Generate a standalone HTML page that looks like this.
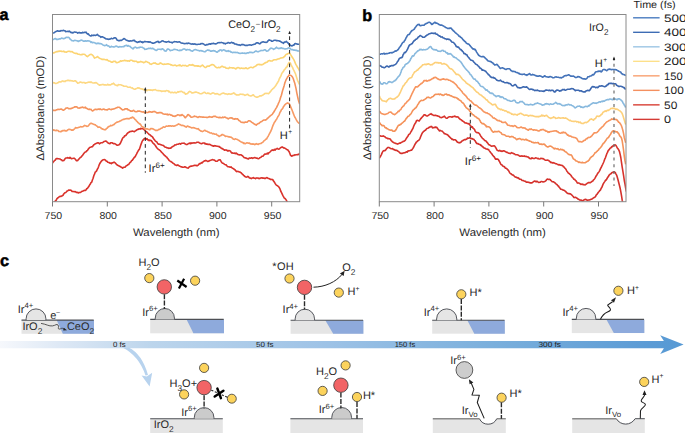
<!DOCTYPE html>
<html><head><meta charset="utf-8"><style>
html,body{margin:0;padding:0;background:#fff;}
svg{display:block;}
text{font-family:"Liberation Sans", sans-serif;}
svg{text-rendering:geometricPrecision;}
</style></head><body>
<svg width="685" height="433" viewBox="0 0 685 433">
<rect width="685" height="433" fill="#fff"/>
<defs>
<clipPath id="ca"><rect x="52.5" y="14.5" width="247.2" height="187.2"/></clipPath>
<clipPath id="cb"><rect x="379.3" y="14.5" width="246.7" height="187.2"/></clipPath>
<linearGradient id="tl" x1="0" y1="0" x2="685" y2="0" gradientUnits="userSpaceOnUse">
<stop offset="0" stop-color="#f6f8fc"/>
<stop offset="0.09" stop-color="#dde8f5"/>
<stop offset="0.22" stop-color="#bcd5ec"/>
<stop offset="0.48" stop-color="#9dc2e6"/>
<stop offset="0.72" stop-color="#7aafdc"/>
<stop offset="0.95" stop-color="#5b9bd5"/>
<stop offset="1" stop-color="#5699d4"/>
</linearGradient>
</defs>
<text x="-0.6" y="20.4" font-size="16.2" font-weight="bold" fill="#000" stroke="#000" stroke-width="0.5">a</text>
<text x="362.2" y="20.6" font-size="16.2" font-weight="bold" fill="#000" stroke="#000" stroke-width="0.5">b</text>
<text x="0.1" y="266.2" font-size="16.4" font-weight="bold" fill="#000" stroke="#000" stroke-width="0.5">c</text>
<polyline clip-path="url(#ca)" points="52.5,204.2 53.2,203.8 53.9,202.9 54.6,202.0 55.3,200.9 56.0,200.6 56.7,199.1 57.4,198.2 58.1,197.8 58.8,197.1 59.5,196.6 60.2,196.2 60.9,196.4 61.6,196.1 62.3,195.7 63.0,195.3 63.7,194.0 64.4,193.2 65.1,192.7 65.8,192.4 66.5,191.7 67.2,190.9 67.9,190.7 68.6,190.0 69.3,190.2 70.0,190.0 70.7,190.3 71.4,190.6 72.1,191.5 72.8,191.5 73.5,191.5 74.2,191.7 74.9,191.6 75.6,191.8 76.3,192.5 77.0,192.3 77.7,192.6 78.4,193.0 79.1,192.4 79.8,192.6 80.5,192.4 81.2,191.9 81.9,191.3 82.6,191.3 83.3,190.9 84.0,190.5 84.7,190.3 85.4,190.4 86.1,189.8 86.8,188.5 87.5,188.4 88.2,187.2 88.9,186.4 89.6,185.0 90.3,184.0 91.0,182.7 91.7,182.2 92.4,180.0 93.1,178.3 93.8,175.7 94.5,174.1 95.2,172.2 95.9,171.6 96.6,170.9 97.3,169.2 98.0,168.1 98.7,166.3 99.4,164.3 100.1,163.0 100.8,162.0 101.5,161.1 102.2,160.3 102.9,159.8 103.6,159.8 104.3,159.6 105.0,159.7 105.7,160.4 106.4,161.3 107.1,161.4 107.8,162.2 108.5,162.4 109.2,162.6 109.9,163.2 110.6,163.1 111.3,163.6 112.0,162.9 112.7,162.9 113.4,162.5 114.1,162.1 114.8,162.6 115.5,163.1 116.2,164.1 116.9,164.8 117.6,165.2 118.3,165.6 119.0,165.9 119.7,166.4 120.4,166.5 121.1,167.3 121.8,167.3 122.5,168.1 123.2,167.7 123.9,167.2 124.6,167.3 125.3,167.0 126.0,165.9 126.7,165.6 127.4,165.2 128.1,164.6 128.8,164.4 129.5,163.2 130.2,162.3 130.9,161.8 131.6,160.6 132.3,160.2 133.0,159.2 133.7,158.2 134.4,157.2 135.1,156.8 135.8,155.3 136.5,154.1 137.2,152.6 137.9,151.4 138.6,150.1 139.3,149.4 140.0,147.4 140.7,145.3 141.4,143.4 142.1,141.4 142.8,140.4 143.5,139.6 144.2,138.8 144.9,138.5 145.6,138.6 146.3,139.1 147.0,138.5 147.7,139.9 148.4,139.9 149.1,140.6 149.8,140.1 150.5,140.4 151.2,140.6 151.9,141.4 152.6,142.7 153.3,143.3 154.0,143.9 154.7,144.7 155.4,145.5 156.1,146.8 156.8,147.7 157.5,148.5 158.2,149.2 158.9,149.6 159.6,150.2 160.3,150.7 161.0,151.5 161.7,152.4 162.4,153.0 163.1,153.8 163.8,154.7 164.5,155.3 165.2,155.9 165.9,156.6 166.6,157.0 167.3,158.1 168.0,158.8 168.7,159.9 169.4,160.6 170.1,161.1 170.8,161.5 171.5,162.0 172.2,162.4 172.9,163.1 173.6,163.6 174.3,163.9 175.0,164.9 175.7,165.1 176.4,165.4 177.1,165.4 177.8,164.9 178.5,165.5 179.2,165.9 179.9,166.3 180.6,166.6 181.3,166.9 182.0,166.9 182.7,167.2 183.4,167.2 184.1,167.1 184.8,166.8 185.5,167.1 186.2,167.4 186.9,167.8 187.6,168.0 188.3,168.1 189.0,167.1 189.7,166.8 190.4,166.2 191.1,166.1 191.8,166.1 192.5,165.9 193.2,165.7 193.9,165.5 194.6,165.3 195.3,165.5 196.0,165.3 196.7,165.7 197.4,165.7 198.1,165.1 198.8,164.4 199.5,163.6 200.2,163.7 200.9,163.3 201.6,162.6 202.3,162.9 203.0,161.9 203.7,161.3 204.4,160.8 205.1,160.9 205.8,160.4 206.5,160.7 207.2,161.2 207.9,161.4 208.6,161.1 209.3,161.0 210.0,160.4 210.7,160.2 211.4,160.0 212.1,159.7 212.8,159.6 213.5,160.0 214.2,160.0 214.9,160.5 215.6,161.1 216.3,161.2 217.0,161.3 217.7,160.8 218.4,160.1 219.1,159.9 219.8,159.7 220.5,160.2 221.2,161.8 221.9,162.6 222.6,163.3 223.3,163.3 224.0,163.9 224.7,164.4 225.4,164.8 226.1,164.9 226.8,165.7 227.5,166.4 228.2,166.7 228.9,166.7 229.6,167.0 230.3,167.3 231.0,166.8 231.7,167.7 232.4,168.2 233.1,168.4 233.8,169.0 234.5,169.5 235.2,170.0 235.9,170.9 236.6,171.6 237.3,171.4 238.0,171.5 238.7,171.6 239.4,172.0 240.1,172.1 240.8,172.6 241.5,173.2 242.2,174.1 242.9,174.4 243.6,175.5 244.3,175.8 245.0,176.6 245.7,176.9 246.4,177.1 247.1,177.0 247.8,176.4 248.5,176.8 249.2,177.7 249.9,178.1 250.6,178.1 251.3,178.6 252.0,178.1 252.7,177.9 253.4,177.6 254.1,178.2 254.8,178.2 255.5,178.7 256.2,178.1 256.9,177.9 257.6,178.1 258.3,178.0 259.0,178.6 259.7,178.5 260.4,178.0 261.1,178.0 261.8,177.7 262.5,178.2 263.2,178.0 263.9,178.1 264.6,178.4 265.3,178.4 266.0,178.1 266.7,177.6 267.4,177.8 268.1,178.4 268.8,178.5 269.5,178.7 270.2,179.3 270.9,179.6 271.6,179.4 272.3,179.5 273.0,180.0 273.7,181.3 274.4,182.1 275.1,183.4 275.8,184.5 276.5,185.3 277.2,185.6 277.9,186.1 278.6,186.6 279.3,187.7 280.0,188.9 280.7,191.0 281.4,192.3 282.1,193.8 282.8,195.3 283.5,196.6 284.2,198.0 284.9,198.4 285.6,199.1 286.3,200.1 287.0,201.8 287.7,202.8 288.4,204.0 289.1,205.1 289.8,206.0" fill="none" stroke="#da322b" stroke-width="1.6" stroke-linejoin="round"/>
<polyline clip-path="url(#ca)" points="52.5,163.0 53.2,162.0 53.9,161.4 54.6,160.4 55.3,160.3 56.0,158.7 56.7,158.5 57.4,158.6 58.1,158.7 58.8,158.8 59.5,159.0 60.2,159.0 60.9,159.7 61.6,159.7 62.3,160.7 63.0,160.8 63.7,160.6 64.4,159.8 65.1,158.6 65.8,158.0 66.5,158.0 67.2,157.9 67.9,157.6 68.6,158.0 69.3,158.2 70.0,157.4 70.7,158.1 71.4,158.8 72.1,158.6 72.8,158.4 73.5,158.2 74.2,158.2 74.9,158.8 75.6,159.5 76.3,160.6 77.0,160.7 77.7,160.4 78.4,159.5 79.1,158.9 79.8,158.0 80.5,157.4 81.2,157.0 81.9,156.1 82.6,155.2 83.3,154.2 84.0,153.3 84.7,152.5 85.4,151.9 86.1,151.7 86.8,150.7 87.5,150.4 88.2,149.3 88.9,148.3 89.6,147.7 90.3,147.2 91.0,147.2 91.7,146.7 92.4,146.7 93.1,145.7 93.8,144.8 94.5,144.5 95.2,143.7 95.9,143.6 96.6,143.3 97.3,143.0 98.0,142.7 98.7,143.0 99.4,143.8 100.1,143.3 100.8,142.8 101.5,142.8 102.2,142.8 102.9,142.3 103.6,141.8 104.3,141.4 105.0,141.2 105.7,141.0 106.4,141.2 107.1,142.1 107.8,142.7 108.5,143.3 109.2,143.5 109.9,143.7 110.6,142.7 111.3,142.7 112.0,142.8 112.7,143.2 113.4,143.7 114.1,143.6 114.8,143.8 115.5,144.0 116.2,144.6 116.9,145.2 117.6,145.3 118.3,145.0 119.0,144.8 119.7,144.2 120.4,143.2 121.1,141.6 121.8,140.2 122.5,138.4 123.2,137.4 123.9,137.2 124.6,135.8 125.3,135.7 126.0,135.3 126.7,134.3 127.4,133.3 128.1,132.7 128.8,132.3 129.5,132.0 130.2,131.4 130.9,131.6 131.6,131.2 132.3,131.1 133.0,131.3 133.7,131.5 134.4,131.6 135.1,131.0 135.8,130.7 136.5,130.1 137.2,129.6 137.9,129.5 138.6,129.0 139.3,128.9 140.0,129.1 140.7,128.4 141.4,128.7 142.1,128.5 142.8,128.7 143.5,129.0 144.2,129.7 144.9,130.5 145.6,131.1 146.3,131.6 147.0,132.2 147.7,133.0 148.4,133.6 149.1,134.5 149.8,134.7 150.5,135.3 151.2,136.1 151.9,136.4 152.6,137.0 153.3,138.3 154.0,139.2 154.7,140.1 155.4,141.1 156.1,141.5 156.8,141.9 157.5,143.2 158.2,144.1 158.9,144.0 159.6,144.2 160.3,144.5 161.0,144.8 161.7,145.1 162.4,145.3 163.1,145.4 163.8,145.9 164.5,146.6 165.2,147.2 165.9,147.2 166.6,147.7 167.3,147.9 168.0,147.9 168.7,148.4 169.4,148.2 170.1,148.0 170.8,148.1 171.5,147.4 172.2,146.8 172.9,146.4 173.6,146.1 174.3,145.6 175.0,144.7 175.7,144.9 176.4,144.7 177.1,144.2 177.8,144.2 178.5,144.2 179.2,143.7 179.9,143.5 180.6,144.1 181.3,143.5 182.0,143.2 182.7,143.3 183.4,143.2 184.1,143.1 184.8,143.8 185.5,144.1 186.2,144.4 186.9,144.6 187.6,144.3 188.3,143.6 189.0,143.4 189.7,143.1 190.4,143.7 191.1,142.8 191.8,143.4 192.5,143.0 193.2,142.9 193.9,143.0 194.6,142.9 195.3,143.0 196.0,142.8 196.7,142.4 197.4,142.3 198.1,142.3 198.8,142.4 199.5,143.0 200.2,143.2 200.9,143.6 201.6,143.8 202.3,143.4 203.0,143.0 203.7,143.0 204.4,143.1 205.1,144.0 205.8,143.5 206.5,144.1 207.2,144.1 207.9,144.4 208.6,144.4 209.3,144.2 210.0,144.5 210.7,144.9 211.4,145.4 212.1,145.6 212.8,145.9 213.5,146.3 214.2,145.6 214.9,146.0 215.6,145.8 216.3,146.1 217.0,146.3 217.7,146.3 218.4,146.6 219.1,146.4 219.8,147.3 220.5,147.4 221.2,148.2 221.9,148.6 222.6,148.6 223.3,149.4 224.0,149.8 224.7,150.2 225.4,149.9 226.1,150.1 226.8,150.0 227.5,150.9 228.2,151.0 228.9,150.5 229.6,150.7 230.3,150.9 231.0,152.0 231.7,153.0 232.4,152.9 233.1,153.3 233.8,153.3 234.5,153.0 235.2,153.6 235.9,153.0 236.6,153.5 237.3,154.0 238.0,154.6 238.7,154.8 239.4,154.9 240.1,154.8 240.8,154.7 241.5,155.3 242.2,155.6 242.9,156.2 243.6,157.0 244.3,157.8 245.0,157.8 245.7,158.1 246.4,158.1 247.1,158.6 247.8,158.7 248.5,159.0 249.2,158.0 249.9,158.0 250.6,158.2 251.3,157.9 252.0,157.9 252.7,158.4 253.4,157.9 254.1,157.7 254.8,157.5 255.5,157.9 256.2,158.1 256.9,158.0 257.6,158.4 258.3,158.7 259.0,158.5 259.7,157.8 260.4,157.5 261.1,157.1 261.8,156.3 262.5,156.3 263.2,156.0 263.9,155.1 264.6,154.1 265.3,154.1 266.0,154.0 266.7,154.0 267.4,153.1 268.1,153.9 268.8,152.7 269.5,152.5 270.2,151.8 270.9,151.0 271.6,150.4 272.3,149.9 273.0,150.4 273.7,150.1 274.4,149.4 275.1,150.1 275.8,149.1 276.5,149.0 277.2,148.4 277.9,149.0 278.6,149.1 279.3,149.0 280.0,148.2 280.7,147.5 281.4,147.4 282.1,146.9 282.8,147.2 283.5,147.9 284.2,147.9 284.9,148.3 285.6,148.5 286.3,149.3 287.0,149.6 287.7,149.7 288.4,150.8 289.1,151.6 289.8,153.3 290.5,155.2 291.2,155.8 291.9,156.2 292.6,155.6 293.3,155.4 294.0,155.4 294.7,154.8 295.4,155.0 296.1,154.8 296.8,154.8 297.5,154.5 298.2,154.6 298.9,154.2 299.6,153.3" fill="none" stroke="#d8332c" stroke-width="1.6" stroke-linejoin="round"/>
<polyline clip-path="url(#ca)" points="52.5,129.4 53.2,130.3 53.9,129.9 54.6,130.4 55.3,130.5 56.0,130.7 56.7,130.1 57.4,130.5 58.1,130.5 58.8,131.4 59.5,131.5 60.2,131.6 60.9,131.8 61.6,131.2 62.3,130.6 63.0,130.9 63.7,130.4 64.4,130.2 65.1,131.0 65.8,130.6 66.5,130.9 67.2,130.6 67.9,129.7 68.6,129.4 69.3,129.4 70.0,129.5 70.7,129.5 71.4,130.2 72.1,129.9 72.8,130.2 73.5,129.8 74.2,129.1 74.9,128.5 75.6,127.6 76.3,127.9 77.0,127.9 77.7,127.8 78.4,127.5 79.1,127.2 79.8,127.1 80.5,126.6 81.2,126.7 81.9,126.9 82.6,126.8 83.3,126.6 84.0,125.8 84.7,125.3 85.4,125.8 86.1,125.9 86.8,126.4 87.5,126.2 88.2,125.9 88.9,125.1 89.6,124.2 90.3,123.6 91.0,123.3 91.7,123.4 92.4,123.7 93.1,124.2 93.8,124.2 94.5,124.8 95.2,124.7 95.9,125.3 96.6,125.8 97.3,126.4 98.0,127.4 98.7,127.0 99.4,127.0 100.1,127.4 100.8,127.8 101.5,128.8 102.2,128.7 102.9,129.3 103.6,129.3 104.3,129.7 105.0,129.8 105.7,129.7 106.4,128.5 107.1,128.2 107.8,127.4 108.5,126.6 109.2,126.5 109.9,126.1 110.6,125.4 111.3,125.8 112.0,125.6 112.7,125.2 113.4,124.6 114.1,124.6 114.8,123.7 115.5,123.2 116.2,122.7 116.9,122.0 117.6,122.1 118.3,121.7 119.0,121.6 119.7,121.1 120.4,120.9 121.1,120.6 121.8,120.0 122.5,119.8 123.2,119.4 123.9,119.4 124.6,119.1 125.3,118.9 126.0,118.8 126.7,118.6 127.4,118.6 128.1,118.5 128.8,118.9 129.5,118.6 130.2,118.1 130.9,117.7 131.6,117.9 132.3,117.1 133.0,117.3 133.7,117.9 134.4,118.6 135.1,119.6 135.8,119.9 136.5,121.1 137.2,121.5 137.9,122.6 138.6,122.9 139.3,123.9 140.0,123.9 140.7,124.7 141.4,125.9 142.1,126.8 142.8,126.9 143.5,127.6 144.2,127.9 144.9,128.7 145.6,128.9 146.3,128.9 147.0,128.8 147.7,129.1 148.4,129.2 149.1,129.7 149.8,129.8 150.5,128.6 151.2,128.8 151.9,128.5 152.6,128.9 153.3,129.0 154.0,129.5 154.7,129.7 155.4,130.4 156.1,130.4 156.8,130.3 157.5,130.4 158.2,129.9 158.9,129.2 159.6,129.4 160.3,128.9 161.0,128.3 161.7,128.2 162.4,127.8 163.1,127.0 163.8,126.9 164.5,127.2 165.2,127.0 165.9,126.3 166.6,126.1 167.3,126.2 168.0,126.2 168.7,125.8 169.4,126.1 170.1,125.7 170.8,125.8 171.5,126.3 172.2,125.9 172.9,126.0 173.6,126.1 174.3,126.1 175.0,125.7 175.7,125.6 176.4,125.0 177.1,125.0 177.8,124.4 178.5,123.9 179.2,124.2 179.9,124.6 180.6,124.7 181.3,125.4 182.0,125.5 182.7,125.3 183.4,125.7 184.1,125.7 184.8,126.4 185.5,126.6 186.2,127.2 186.9,126.5 187.6,126.0 188.3,126.4 189.0,126.9 189.7,126.9 190.4,127.2 191.1,127.6 191.8,127.9 192.5,127.7 193.2,127.5 193.9,127.9 194.6,127.9 195.3,128.3 196.0,128.5 196.7,128.7 197.4,129.0 198.1,128.6 198.8,129.4 199.5,130.2 200.2,130.5 200.9,131.1 201.6,131.1 202.3,131.6 203.0,131.3 203.7,130.9 204.4,130.3 205.1,130.4 205.8,131.0 206.5,131.3 207.2,131.3 207.9,132.0 208.6,132.0 209.3,132.5 210.0,132.9 210.7,133.1 211.4,132.9 212.1,133.5 212.8,133.9 213.5,133.6 214.2,133.8 214.9,134.3 215.6,134.2 216.3,134.0 217.0,135.1 217.7,135.4 218.4,135.6 219.1,136.5 219.8,136.1 220.5,135.6 221.2,135.4 221.9,134.6 222.6,134.5 223.3,135.0 224.0,135.2 224.7,135.6 225.4,136.4 226.1,136.3 226.8,136.3 227.5,136.5 228.2,136.6 228.9,137.0 229.6,136.8 230.3,137.3 231.0,137.0 231.7,137.8 232.4,138.1 233.1,138.9 233.8,139.2 234.5,139.4 235.2,138.8 235.9,139.1 236.6,139.3 237.3,139.5 238.0,139.9 238.7,140.5 239.4,140.5 240.1,141.4 240.8,141.8 241.5,142.1 242.2,142.4 242.9,142.5 243.6,143.5 244.3,143.0 245.0,143.7 245.7,143.4 246.4,143.0 247.1,142.7 247.8,143.1 248.5,143.3 249.2,143.0 249.9,143.5 250.6,144.0 251.3,143.9 252.0,144.3 252.7,143.8 253.4,144.2 254.1,144.0 254.8,144.7 255.5,144.1 256.2,143.6 256.9,144.1 257.6,144.1 258.3,144.5 259.0,143.8 259.7,143.7 260.4,143.5 261.1,143.4 261.8,142.7 262.5,142.5 263.2,141.9 263.9,140.9 264.6,140.3 265.3,139.8 266.0,139.1 266.7,138.9 267.4,137.3 268.1,136.5 268.8,135.0 269.5,133.6 270.2,132.3 270.9,131.0 271.6,129.4 272.3,127.3 273.0,125.4 273.7,123.9 274.4,122.3 275.1,121.6 275.8,120.1 276.5,119.5 277.2,118.0 277.9,116.6 278.6,115.7 279.3,114.3 280.0,112.2 280.7,111.4 281.4,109.7 282.1,109.1 282.8,108.3 283.5,106.6 284.2,105.8 284.9,104.8 285.6,104.1 286.3,103.5 287.0,103.3 287.7,102.8 288.4,103.5 289.1,103.5 289.8,104.8 290.5,106.4 291.2,108.2 291.9,109.7 292.6,111.5 293.3,113.4 294.0,115.2 294.7,117.0 295.4,118.0 296.1,119.4 296.8,120.6 297.5,121.8 298.2,122.5 298.9,123.2 299.6,123.2" fill="none" stroke="#f79a64" stroke-width="1.6" stroke-linejoin="round"/>
<polyline clip-path="url(#ca)" points="52.5,109.9 53.2,110.5 53.9,110.2 54.6,110.4 55.3,110.5 56.0,110.1 56.7,109.8 57.4,109.7 58.1,109.2 58.8,109.5 59.5,109.5 60.2,109.1 60.9,109.2 61.6,109.1 62.3,109.8 63.0,110.1 63.7,110.2 64.4,109.5 65.1,109.1 65.8,108.1 66.5,108.1 67.2,107.9 67.9,108.0 68.6,108.6 69.3,108.7 70.0,108.5 70.7,108.8 71.4,108.4 72.1,108.1 72.8,108.0 73.5,107.4 74.2,107.2 74.9,106.8 75.6,106.9 76.3,106.9 77.0,106.9 77.7,107.9 78.4,108.0 79.1,108.1 79.8,108.0 80.5,107.5 81.2,107.6 81.9,107.2 82.6,107.0 83.3,107.7 84.0,107.6 84.7,107.6 85.4,107.2 86.1,108.3 86.8,108.4 87.5,108.8 88.2,109.2 88.9,109.4 89.6,109.1 90.3,109.5 91.0,109.4 91.7,110.2 92.4,110.9 93.1,110.7 93.8,110.0 94.5,109.7 95.2,109.3 95.9,109.2 96.6,109.6 97.3,109.5 98.0,109.1 98.7,109.1 99.4,109.5 100.1,108.8 100.8,109.4 101.5,109.6 102.2,109.7 102.9,109.2 103.6,109.1 104.3,109.3 105.0,109.7 105.7,109.7 106.4,109.7 107.1,110.0 107.8,109.5 108.5,109.1 109.2,108.9 109.9,109.3 110.6,109.5 111.3,109.7 112.0,109.1 112.7,109.3 113.4,109.1 114.1,108.7 114.8,108.6 115.5,108.3 116.2,107.8 116.9,107.8 117.6,107.2 118.3,107.2 119.0,107.2 119.7,107.5 120.4,108.3 121.1,108.7 121.8,109.3 122.5,109.9 123.2,109.8 123.9,109.8 124.6,109.2 125.3,108.7 126.0,109.1 126.7,108.8 127.4,108.9 128.1,110.0 128.8,109.9 129.5,110.4 130.2,110.7 130.9,111.3 131.6,111.0 132.3,111.1 133.0,110.5 133.7,110.4 134.4,111.2 135.1,111.5 135.8,111.6 136.5,111.7 137.2,111.5 137.9,111.0 138.6,111.3 139.3,111.1 140.0,111.3 140.7,111.5 141.4,111.8 142.1,111.9 142.8,112.1 143.5,111.8 144.2,112.5 144.9,112.9 145.6,112.3 146.3,112.4 147.0,112.5 147.7,112.5 148.4,112.2 149.1,111.5 149.8,112.0 150.5,111.7 151.2,112.0 151.9,112.3 152.6,111.8 153.3,111.5 154.0,111.7 154.7,111.4 155.4,111.9 156.1,112.3 156.8,112.9 157.5,112.9 158.2,113.0 158.9,112.6 159.6,112.5 160.3,112.6 161.0,112.6 161.7,112.9 162.4,113.3 163.1,114.0 163.8,114.0 164.5,114.2 165.2,114.2 165.9,114.1 166.6,114.5 167.3,114.1 168.0,114.9 168.7,114.6 169.4,114.4 170.1,114.5 170.8,115.1 171.5,115.0 172.2,115.5 172.9,116.1 173.6,116.1 174.3,116.1 175.0,116.5 175.7,115.9 176.4,115.8 177.1,115.1 177.8,114.7 178.5,115.0 179.2,115.0 179.9,115.7 180.6,115.1 181.3,115.4 182.0,114.5 182.7,115.2 183.4,115.4 184.1,116.3 184.8,117.4 185.5,117.7 186.2,116.6 186.9,116.1 187.6,114.8 188.3,114.6 189.0,115.1 189.7,115.9 190.4,116.1 191.1,117.3 191.8,117.3 192.5,117.1 193.2,116.8 193.9,116.4 194.6,116.1 195.3,116.5 196.0,116.5 196.7,116.8 197.4,117.2 198.1,117.5 198.8,116.8 199.5,116.6 200.2,117.0 200.9,116.9 201.6,117.0 202.3,117.1 203.0,117.0 203.7,117.1 204.4,117.2 205.1,117.2 205.8,117.3 206.5,117.4 207.2,117.5 207.9,117.4 208.6,117.0 209.3,116.6 210.0,116.9 210.7,117.0 211.4,117.1 212.1,117.2 212.8,116.8 213.5,116.4 214.2,116.4 214.9,116.4 215.6,116.4 216.3,117.0 217.0,117.2 217.7,117.2 218.4,117.5 219.1,117.8 219.8,117.2 220.5,117.6 221.2,117.7 221.9,117.8 222.6,117.1 223.3,117.6 224.0,117.2 224.7,117.1 225.4,117.3 226.1,117.7 226.8,118.0 227.5,118.3 228.2,119.0 228.9,118.4 229.6,118.0 230.3,118.0 231.0,117.7 231.7,118.2 232.4,118.0 233.1,118.9 233.8,119.0 234.5,119.2 235.2,118.6 235.9,119.0 236.6,118.9 237.3,118.7 238.0,119.3 238.7,120.3 239.4,120.7 240.1,121.2 240.8,121.9 241.5,122.2 242.2,122.4 242.9,122.3 243.6,122.6 244.3,122.7 245.0,122.1 245.7,122.0 246.4,122.3 247.1,122.3 247.8,121.5 248.5,120.8 249.2,120.7 249.9,120.9 250.6,121.3 251.3,122.0 252.0,122.4 252.7,122.7 253.4,123.5 254.1,123.9 254.8,124.4 255.5,124.5 256.2,125.1 256.9,124.4 257.6,123.9 258.3,123.6 259.0,123.4 259.7,122.7 260.4,122.2 261.1,121.7 261.8,121.5 262.5,120.8 263.2,120.4 263.9,120.0 264.6,120.0 265.3,120.2 266.0,119.7 266.7,119.4 267.4,118.2 268.1,117.9 268.8,117.2 269.5,116.7 270.2,115.8 270.9,115.3 271.6,114.9 272.3,114.2 273.0,113.1 273.7,112.3 274.4,111.0 275.1,109.9 275.8,108.6 276.5,107.6 277.2,106.1 277.9,104.6 278.6,103.0 279.3,101.5 280.0,99.4 280.7,97.1 281.4,95.3 282.1,92.5 282.8,89.9 283.5,87.7 284.2,85.4 284.9,82.8 285.6,81.0 286.3,79.3 287.0,78.1 287.7,76.7 288.4,76.3 289.1,74.9 289.8,75.3 290.5,75.2 291.2,75.7 291.9,76.3 292.6,77.2 293.3,78.8 294.0,80.9 294.7,82.9 295.4,85.9 296.1,88.9 296.8,92.8 297.5,96.1 298.2,99.2 298.9,101.8 299.6,104.0" fill="none" stroke="#f5935d" stroke-width="1.6" stroke-linejoin="round"/>
<polyline clip-path="url(#ca)" points="52.5,82.9 53.2,82.6 53.9,82.9 54.6,82.8 55.3,83.5 56.0,83.5 56.7,83.3 57.4,82.9 58.1,82.8 58.8,81.9 59.5,81.7 60.2,82.0 60.9,81.9 61.6,81.6 62.3,80.9 63.0,81.1 63.7,81.4 64.4,81.2 65.1,81.6 65.8,80.7 66.5,80.8 67.2,80.3 67.9,80.6 68.6,80.3 69.3,80.7 70.0,80.5 70.7,80.6 71.4,80.8 72.1,81.0 72.8,80.9 73.5,81.2 74.2,81.0 74.9,80.7 75.6,80.8 76.3,81.7 77.0,82.3 77.7,83.2 78.4,82.9 79.1,82.7 79.8,82.3 80.5,82.0 81.2,82.4 81.9,82.5 82.6,82.8 83.3,82.6 84.0,82.4 84.7,82.7 85.4,83.3 86.1,82.8 86.8,82.8 87.5,82.6 88.2,82.2 88.9,82.1 89.6,82.1 90.3,82.5 91.0,81.9 91.7,82.5 92.4,82.8 93.1,83.0 93.8,83.0 94.5,82.8 95.2,82.9 95.9,82.6 96.6,82.9 97.3,83.5 98.0,84.1 98.7,84.6 99.4,85.2 100.1,84.9 100.8,84.9 101.5,84.7 102.2,84.4 102.9,84.6 103.6,84.6 104.3,84.9 105.0,84.9 105.7,84.9 106.4,85.1 107.1,84.9 107.8,84.2 108.5,85.0 109.2,84.8 109.9,84.9 110.6,84.9 111.3,84.4 112.0,83.7 112.7,84.0 113.4,83.2 114.1,83.8 114.8,84.7 115.5,84.9 116.2,85.4 116.9,85.5 117.6,85.7 118.3,84.6 119.0,84.7 119.7,84.8 120.4,84.8 121.1,84.8 121.8,85.3 122.5,85.5 123.2,85.8 123.9,86.2 124.6,86.3 125.3,86.2 126.0,86.3 126.7,86.3 127.4,86.9 128.1,87.3 128.8,87.2 129.5,87.3 130.2,87.0 130.9,87.6 131.6,88.0 132.3,87.9 133.0,88.6 133.7,88.8 134.4,89.3 135.1,89.2 135.8,88.8 136.5,88.5 137.2,88.2 137.9,87.7 138.6,88.2 139.3,88.0 140.0,88.5 140.7,88.7 141.4,89.0 142.1,88.9 142.8,89.4 143.5,89.2 144.2,90.0 144.9,90.2 145.6,90.5 146.3,90.5 147.0,90.6 147.7,89.8 148.4,90.1 149.1,89.7 149.8,90.3 150.5,89.8 151.2,90.2 151.9,90.0 152.6,90.5 153.3,89.7 154.0,89.9 154.7,89.7 155.4,89.5 156.1,90.1 156.8,90.5 157.5,90.5 158.2,90.8 158.9,90.5 159.6,90.7 160.3,90.7 161.0,91.0 161.7,91.5 162.4,91.1 163.1,91.2 163.8,91.0 164.5,91.0 165.2,91.5 165.9,90.7 166.6,90.6 167.3,90.8 168.0,90.8 168.7,91.8 169.4,91.4 170.1,92.4 170.8,92.8 171.5,92.3 172.2,92.3 172.9,92.6 173.6,92.8 174.3,92.3 175.0,92.2 175.7,92.8 176.4,92.9 177.1,92.4 177.8,91.7 178.5,92.2 179.2,91.6 179.9,91.7 180.6,91.4 181.3,91.4 182.0,91.5 182.7,92.2 183.4,92.7 184.1,92.4 184.8,93.1 185.5,94.2 186.2,93.9 186.9,93.8 187.6,93.5 188.3,92.6 189.0,91.8 189.7,91.4 190.4,91.7 191.1,92.2 191.8,92.9 192.5,92.9 193.2,92.9 193.9,92.5 194.6,92.5 195.3,92.0 196.0,92.0 196.7,92.3 197.4,92.5 198.1,92.9 198.8,92.9 199.5,93.5 200.2,93.7 200.9,93.7 201.6,93.6 202.3,93.5 203.0,92.9 203.7,92.5 204.4,92.3 205.1,92.6 205.8,93.3 206.5,93.5 207.2,93.4 207.9,92.9 208.6,93.5 209.3,93.4 210.0,93.9 210.7,94.1 211.4,93.6 212.1,93.3 212.8,92.8 213.5,93.1 214.2,93.3 214.9,94.0 215.6,93.8 216.3,93.9 217.0,93.6 217.7,93.7 218.4,94.4 219.1,94.5 219.8,94.8 220.5,94.5 221.2,93.8 221.9,93.6 222.6,93.2 223.3,93.0 224.0,93.3 224.7,93.7 225.4,93.7 226.1,94.1 226.8,93.9 227.5,94.4 228.2,94.2 228.9,93.7 229.6,94.1 230.3,94.3 231.0,94.1 231.7,94.0 232.4,93.5 233.1,93.4 233.8,92.8 234.5,93.3 235.2,94.3 235.9,94.5 236.6,95.0 237.3,95.0 238.0,94.8 238.7,95.0 239.4,94.8 240.1,94.1 240.8,94.2 241.5,94.3 242.2,94.4 242.9,94.2 243.6,94.7 244.3,94.8 245.0,95.4 245.7,95.0 246.4,94.8 247.1,94.4 247.8,94.4 248.5,95.2 249.2,95.6 249.9,95.8 250.6,96.0 251.3,95.9 252.0,95.5 252.7,95.0 253.4,94.9 254.1,95.7 254.8,96.4 255.5,96.8 256.2,97.1 256.9,97.0 257.6,97.1 258.3,96.7 259.0,96.4 259.7,95.9 260.4,95.9 261.1,96.0 261.8,95.6 262.5,95.3 263.2,94.8 263.9,94.4 264.6,93.6 265.3,93.5 266.0,93.3 266.7,93.5 267.4,93.4 268.1,93.6 268.8,93.6 269.5,92.6 270.2,91.9 270.9,91.0 271.6,90.0 272.3,89.3 273.0,88.7 273.7,88.1 274.4,87.3 275.1,86.5 275.8,85.5 276.5,84.3 277.2,83.3 277.9,82.0 278.6,81.1 279.3,78.8 280.0,77.5 280.7,76.4 281.4,74.4 282.1,73.0 282.8,72.1 283.5,71.3 284.2,69.9 284.9,69.2 285.6,68.2 286.3,67.2 287.0,66.9 287.7,65.1 288.4,63.5 289.1,62.5 289.8,62.6 290.5,63.4 291.2,65.0 291.9,66.4 292.6,67.5 293.3,69.4 294.0,70.6 294.7,72.1 295.4,73.6 296.1,75.8 296.8,78.0 297.5,80.3 298.2,81.7 298.9,83.4 299.6,84.6" fill="none" stroke="#fdd882" stroke-width="1.6" stroke-linejoin="round"/>
<polyline clip-path="url(#ca)" points="52.5,52.5 53.2,53.0 53.9,52.9 54.6,52.6 55.3,52.1 56.0,51.9 56.7,51.6 57.4,51.7 58.1,51.3 58.8,51.5 59.5,51.0 60.2,51.2 60.9,51.1 61.6,51.4 62.3,51.5 63.0,51.5 63.7,51.1 64.4,51.9 65.1,51.9 65.8,52.1 66.5,52.2 67.2,51.6 67.9,51.5 68.6,51.3 69.3,51.3 70.0,51.6 70.7,51.5 71.4,51.7 72.1,51.5 72.8,52.3 73.5,52.6 74.2,53.0 74.9,53.2 75.6,53.4 76.3,53.3 77.0,53.5 77.7,54.0 78.4,54.3 79.1,54.2 79.8,54.5 80.5,54.7 81.2,54.6 81.9,54.7 82.6,54.3 83.3,54.2 84.0,54.2 84.7,54.4 85.4,55.0 86.1,55.7 86.8,56.3 87.5,56.6 88.2,56.0 88.9,55.4 89.6,54.9 90.3,54.4 91.0,54.2 91.7,54.6 92.4,55.0 93.1,55.8 93.8,56.8 94.5,58.2 95.2,57.7 95.9,57.5 96.6,57.2 97.3,56.5 98.0,57.0 98.7,57.8 99.4,58.1 100.1,58.5 100.8,58.8 101.5,59.0 102.2,59.5 102.9,59.4 103.6,59.3 104.3,59.4 105.0,59.6 105.7,59.7 106.4,60.0 107.1,59.5 107.8,60.3 108.5,60.9 109.2,61.1 109.9,61.3 110.6,61.6 111.3,62.2 112.0,62.1 112.7,62.1 113.4,61.3 114.1,61.3 114.8,61.5 115.5,61.3 116.2,62.5 116.9,62.7 117.6,62.5 118.3,62.3 119.0,61.9 119.7,61.7 120.4,60.8 121.1,61.1 121.8,61.1 122.5,60.7 123.2,60.7 123.9,60.6 124.6,60.3 125.3,60.7 126.0,60.6 126.7,60.7 127.4,61.1 128.1,60.8 128.8,61.0 129.5,61.1 130.2,60.3 130.9,60.2 131.6,60.3 132.3,60.5 133.0,61.1 133.7,61.0 134.4,61.5 135.1,61.3 135.8,61.3 136.5,61.4 137.2,62.0 137.9,62.5 138.6,62.0 139.3,62.1 140.0,61.9 140.7,61.4 141.4,61.7 142.1,62.0 142.8,62.1 143.5,62.7 144.2,62.4 144.9,62.2 145.6,61.4 146.3,61.6 147.0,61.8 147.7,62.3 148.4,62.6 149.1,62.8 149.8,63.9 150.5,64.0 151.2,64.4 151.9,63.9 152.6,63.5 153.3,63.3 154.0,62.9 154.7,63.2 155.4,62.9 156.1,63.8 156.8,63.9 157.5,64.2 158.2,64.2 158.9,64.0 159.6,63.8 160.3,62.8 161.0,63.3 161.7,63.5 162.4,64.3 163.1,64.2 163.8,64.4 164.5,64.1 165.2,64.3 165.9,64.3 166.6,64.0 167.3,64.0 168.0,63.7 168.7,64.1 169.4,64.3 170.1,64.2 170.8,64.9 171.5,64.8 172.2,65.2 172.9,65.5 173.6,65.5 174.3,65.2 175.0,65.1 175.7,65.2 176.4,65.9 177.1,65.7 177.8,65.5 178.5,65.2 179.2,65.6 179.9,64.8 180.6,65.5 181.3,66.1 182.0,65.8 182.7,65.4 183.4,65.5 184.1,65.5 184.8,65.6 185.5,65.4 186.2,66.0 186.9,66.1 187.6,66.0 188.3,65.7 189.0,65.0 189.7,64.7 190.4,65.1 191.1,65.3 191.8,64.8 192.5,64.6 193.2,65.4 193.9,65.2 194.6,66.0 195.3,65.9 196.0,66.0 196.7,65.8 197.4,66.2 198.1,65.8 198.8,66.2 199.5,66.2 200.2,66.7 200.9,66.1 201.6,65.8 202.3,65.1 203.0,65.4 203.7,66.3 204.4,66.8 205.1,67.5 205.8,67.5 206.5,66.9 207.2,66.1 207.9,66.2 208.6,66.0 209.3,66.2 210.0,65.5 210.7,65.3 211.4,64.7 212.1,64.5 212.8,64.8 213.5,64.9 214.2,65.4 214.9,66.2 215.6,67.0 216.3,67.3 217.0,67.8 217.7,67.8 218.4,67.3 219.1,67.6 219.8,67.8 220.5,67.0 221.2,66.7 221.9,66.3 222.6,66.4 223.3,67.0 224.0,67.1 224.7,67.3 225.4,67.3 226.1,68.3 226.8,68.3 227.5,68.3 228.2,68.6 228.9,68.2 229.6,67.3 230.3,67.8 231.0,67.8 231.7,67.7 232.4,68.1 233.1,67.7 233.8,67.9 234.5,68.2 235.2,68.5 235.9,69.0 236.6,68.2 237.3,67.8 238.0,67.6 238.7,67.8 239.4,68.0 240.1,68.6 240.8,68.3 241.5,68.1 242.2,68.2 242.9,68.4 243.6,68.2 244.3,68.4 245.0,68.5 245.7,67.8 246.4,68.1 247.1,68.7 247.8,68.6 248.5,68.4 249.2,67.8 249.9,67.6 250.6,67.3 251.3,67.2 252.0,67.4 252.7,67.7 253.4,67.5 254.1,66.7 254.8,66.5 255.5,66.1 256.2,65.7 256.9,64.9 257.6,64.6 258.3,64.5 259.0,64.3 259.7,64.7 260.4,64.5 261.1,64.9 261.8,64.6 262.5,64.6 263.2,64.2 263.9,63.5 264.6,63.4 265.3,62.6 266.0,62.7 266.7,62.2 267.4,62.0 268.1,61.0 268.8,60.7 269.5,60.5 270.2,60.9 270.9,61.0 271.6,61.0 272.3,60.9 273.0,60.2 273.7,59.9 274.4,59.8 275.1,59.7 275.8,59.8 276.5,59.7 277.2,59.3 277.9,59.1 278.6,58.9 279.3,58.8 280.0,58.4 280.7,58.0 281.4,58.0 282.1,57.7 282.8,57.8 283.5,57.2 284.2,56.8 284.9,56.1 285.6,55.0 286.3,54.3 287.0,54.2 287.7,53.8 288.4,53.3 289.1,53.2 289.8,53.3 290.5,54.5 291.2,55.5 291.9,56.8 292.6,57.8 293.3,58.9 294.0,60.0 294.7,61.6 295.4,63.4 296.1,64.9 296.8,65.9 297.5,67.3 298.2,68.2 298.9,69.5 299.6,71.2" fill="none" stroke="#fcd472" stroke-width="1.6" stroke-linejoin="round"/>
<polyline clip-path="url(#ca)" points="52.5,39.8 53.2,39.4 53.9,39.2 54.6,38.7 55.3,38.5 56.0,39.0 56.7,39.5 57.4,39.4 58.1,39.4 58.8,39.0 59.5,38.8 60.2,38.9 60.9,38.6 61.6,38.1 62.3,38.2 63.0,38.5 63.7,38.8 64.4,38.4 65.1,38.3 65.8,37.5 66.5,37.4 67.2,37.4 67.9,37.5 68.6,37.3 69.3,37.9 70.0,39.0 70.7,39.5 71.4,40.2 72.1,40.8 72.8,40.8 73.5,40.9 74.2,40.6 74.9,40.2 75.6,40.4 76.3,40.6 77.0,40.7 77.7,41.0 78.4,41.5 79.1,40.7 79.8,40.9 80.5,40.4 81.2,40.1 81.9,40.2 82.6,40.6 83.3,41.1 84.0,41.1 84.7,41.1 85.4,40.8 86.1,41.2 86.8,41.0 87.5,40.8 88.2,41.0 88.9,40.9 89.6,41.1 90.3,41.5 91.0,42.4 91.7,41.9 92.4,42.7 93.1,42.6 93.8,42.4 94.5,42.8 95.2,43.0 95.9,43.5 96.6,43.8 97.3,43.1 98.0,43.6 98.7,43.1 99.4,43.6 100.1,43.5 100.8,43.8 101.5,43.9 102.2,44.4 102.9,44.9 103.6,45.2 104.3,45.7 105.0,45.5 105.7,45.5 106.4,44.7 107.1,45.3 107.8,45.9 108.5,45.9 109.2,46.4 109.9,47.1 110.6,47.0 111.3,46.3 112.0,46.7 112.7,46.8 113.4,46.9 114.1,47.0 114.8,46.8 115.5,46.2 116.2,46.1 116.9,46.4 117.6,46.6 118.3,47.3 119.0,47.1 119.7,46.6 120.4,46.8 121.1,46.9 121.8,46.8 122.5,46.7 123.2,46.5 123.9,46.6 124.6,45.8 125.3,45.8 126.0,45.4 126.7,45.3 127.4,46.2 128.1,45.5 128.8,46.0 129.5,46.4 130.2,46.4 130.9,47.3 131.6,47.9 132.3,48.3 133.0,49.0 133.7,48.0 134.4,47.5 135.1,47.1 135.8,47.2 136.5,47.9 137.2,48.0 137.9,47.8 138.6,47.6 139.3,47.7 140.0,47.0 140.7,47.2 141.4,47.2 142.1,47.2 142.8,47.7 143.5,48.0 144.2,48.5 144.9,49.4 145.6,49.3 146.3,49.3 147.0,48.9 147.7,48.8 148.4,48.4 149.1,48.4 149.8,48.5 150.5,48.1 151.2,48.6 151.9,48.8 152.6,48.2 153.3,48.7 154.0,49.1 154.7,49.7 155.4,49.9 156.1,50.5 156.8,50.3 157.5,49.4 158.2,49.3 158.9,49.3 159.6,49.2 160.3,49.2 161.0,49.6 161.7,49.0 162.4,48.8 163.1,49.2 163.8,49.6 164.5,50.7 165.2,51.0 165.9,51.1 166.6,50.4 167.3,49.3 168.0,48.9 168.7,49.2 169.4,49.4 170.1,50.7 170.8,50.4 171.5,50.2 172.2,50.2 172.9,49.9 173.6,49.5 174.3,49.3 175.0,49.4 175.7,49.6 176.4,49.8 177.1,49.8 177.8,50.2 178.5,50.4 179.2,50.6 179.9,50.0 180.6,50.5 181.3,50.4 182.0,50.0 182.7,49.4 183.4,49.1 184.1,48.9 184.8,49.1 185.5,49.6 186.2,50.2 186.9,49.6 187.6,49.6 188.3,49.8 189.0,49.7 189.7,49.6 190.4,50.5 191.1,50.7 191.8,51.0 192.5,51.2 193.2,50.6 193.9,50.0 194.6,49.7 195.3,49.5 196.0,49.8 196.7,50.1 197.4,50.3 198.1,50.4 198.8,50.6 199.5,50.9 200.2,50.7 200.9,50.5 201.6,51.0 202.3,50.9 203.0,51.2 203.7,51.6 204.4,51.8 205.1,51.7 205.8,51.3 206.5,50.5 207.2,50.3 207.9,49.9 208.6,50.4 209.3,50.2 210.0,50.7 210.7,51.3 211.4,51.2 212.1,50.8 212.8,50.9 213.5,50.6 214.2,50.9 214.9,50.9 215.6,51.6 216.3,51.8 217.0,52.2 217.7,51.9 218.4,50.9 219.1,50.9 219.8,50.1 220.5,49.9 221.2,50.0 221.9,50.9 222.6,50.4 223.3,49.9 224.0,49.9 224.7,50.1 225.4,51.0 226.1,50.9 226.8,51.4 227.5,51.1 228.2,50.6 228.9,51.4 229.6,51.2 230.3,51.3 231.0,52.1 231.7,52.1 232.4,52.6 233.1,52.5 233.8,52.2 234.5,52.4 235.2,52.2 235.9,52.6 236.6,52.5 237.3,52.4 238.0,52.7 238.7,53.1 239.4,53.2 240.1,53.5 240.8,53.3 241.5,53.3 242.2,52.9 242.9,53.2 243.6,53.3 244.3,53.1 245.0,53.4 245.7,53.3 246.4,53.4 247.1,52.9 247.8,52.8 248.5,52.9 249.2,52.6 249.9,52.1 250.6,52.4 251.3,52.6 252.0,52.3 252.7,52.8 253.4,52.6 254.1,52.3 254.8,51.6 255.5,51.1 256.2,51.1 256.9,51.4 257.6,51.8 258.3,51.8 259.0,51.3 259.7,51.1 260.4,50.8 261.1,50.4 261.8,50.6 262.5,50.5 263.2,50.5 263.9,50.1 264.6,49.8 265.3,49.8 266.0,50.6 266.7,51.2 267.4,51.0 268.1,50.9 268.8,49.9 269.5,49.6 270.2,48.5 270.9,48.1 271.6,48.2 272.3,48.4 273.0,48.7 273.7,49.4 274.4,48.9 275.1,48.5 275.8,48.0 276.5,47.2 277.2,48.0 277.9,48.2 278.6,48.6 279.3,48.3 280.0,48.5 280.7,48.0 281.4,47.7 282.1,48.4 282.8,48.4 283.5,48.5 284.2,48.8 284.9,49.0 285.6,48.9 286.3,48.7 287.0,48.7 287.7,48.5 288.4,47.8 289.1,48.0 289.8,48.2 290.5,48.7 291.2,49.5 291.9,49.7 292.6,49.6 293.3,49.9 294.0,50.3 294.7,50.0 295.4,50.3 296.1,50.6 296.8,50.3 297.5,51.0 298.2,50.9 298.9,51.1 299.6,51.0" fill="none" stroke="#89bbdf" stroke-width="1.6" stroke-linejoin="round"/>
<polyline clip-path="url(#ca)" points="52.5,33.0 53.2,33.0 53.9,32.8 54.6,32.5 55.3,31.7 56.0,31.5 56.7,31.3 57.4,30.7 58.1,30.9 58.8,31.2 59.5,31.1 60.2,31.2 60.9,30.5 61.6,30.8 62.3,30.8 63.0,30.5 63.7,30.3 64.4,30.8 65.1,30.9 65.8,31.6 66.5,31.5 67.2,31.5 67.9,31.3 68.6,31.6 69.3,31.1 70.0,31.7 70.7,32.5 71.4,32.4 72.1,33.0 72.8,32.5 73.5,32.6 74.2,32.0 74.9,32.0 75.6,32.2 76.3,32.3 77.0,32.5 77.7,33.1 78.4,32.7 79.1,32.4 79.8,32.9 80.5,32.8 81.2,32.9 81.9,33.0 82.6,32.3 83.3,32.7 84.0,32.5 84.7,32.2 85.4,32.5 86.1,32.1 86.8,33.2 87.5,34.1 88.2,33.8 88.9,34.7 89.6,35.4 90.3,35.8 91.0,36.1 91.7,35.1 92.4,35.4 93.1,35.6 93.8,35.1 94.5,35.3 95.2,35.5 95.9,35.2 96.6,34.9 97.3,34.4 98.0,35.2 98.7,35.8 99.4,36.0 100.1,36.4 100.8,37.4 101.5,36.8 102.2,36.7 102.9,37.2 103.6,37.3 104.3,37.8 105.0,38.2 105.7,38.8 106.4,39.0 107.1,38.9 107.8,39.3 108.5,39.4 109.2,39.0 109.9,39.1 110.6,38.9 111.3,38.3 112.0,38.6 112.7,38.8 113.4,38.4 114.1,37.8 114.8,37.9 115.5,37.9 116.2,38.4 116.9,39.8 117.6,40.3 118.3,40.6 119.0,40.5 119.7,40.6 120.4,40.3 121.1,40.4 121.8,40.2 122.5,39.5 123.2,39.3 123.9,38.5 124.6,38.7 125.3,39.4 126.0,40.0 126.7,40.2 127.4,40.6 128.1,40.7 128.8,41.2 129.5,41.2 130.2,40.7 130.9,41.0 131.6,41.0 132.3,40.8 133.0,40.3 133.7,40.6 134.4,40.3 135.1,41.4 135.8,41.6 136.5,41.7 137.2,42.5 137.9,42.3 138.6,41.7 139.3,42.0 140.0,41.2 140.7,41.6 141.4,42.2 142.1,41.8 142.8,42.6 143.5,42.1 144.2,41.7 144.9,41.4 145.6,41.8 146.3,41.7 147.0,41.8 147.7,41.9 148.4,41.7 149.1,42.3 149.8,41.8 150.5,42.1 151.2,42.5 151.9,42.8 152.6,43.2 153.3,43.3 154.0,43.0 154.7,42.7 155.4,42.4 156.1,42.1 156.8,41.8 157.5,41.5 158.2,41.3 158.9,42.5 159.6,42.4 160.3,42.1 161.0,41.8 161.7,41.1 162.4,40.9 163.1,41.0 163.8,41.4 164.5,41.7 165.2,41.7 165.9,42.1 166.6,42.1 167.3,41.7 168.0,41.8 168.7,41.3 169.4,41.9 170.1,42.2 170.8,42.3 171.5,42.4 172.2,42.9 172.9,42.2 173.6,42.0 174.3,41.6 175.0,41.7 175.7,41.8 176.4,41.7 177.1,42.1 177.8,42.0 178.5,42.0 179.2,41.7 179.9,42.0 180.6,42.6 181.3,43.0 182.0,43.1 182.7,43.3 183.4,43.4 184.1,43.6 184.8,43.8 185.5,43.6 186.2,43.4 186.9,43.3 187.6,43.6 188.3,43.1 189.0,43.2 189.7,43.4 190.4,43.8 191.1,44.1 191.8,44.0 192.5,43.8 193.2,44.3 193.9,43.8 194.6,44.1 195.3,44.1 196.0,44.4 196.7,44.5 197.4,44.5 198.1,44.3 198.8,44.3 199.5,44.3 200.2,44.3 200.9,43.6 201.6,43.8 202.3,43.6 203.0,43.8 203.7,44.0 204.4,44.7 205.1,45.0 205.8,45.2 206.5,44.6 207.2,44.5 207.9,44.6 208.6,44.0 209.3,44.1 210.0,43.8 210.7,44.2 211.4,43.6 212.1,43.8 212.8,43.4 213.5,43.2 214.2,43.8 214.9,43.7 215.6,43.9 216.3,43.8 217.0,43.3 217.7,42.8 218.4,42.7 219.1,42.5 219.8,42.7 220.5,42.6 221.2,42.4 221.9,42.6 222.6,42.7 223.3,43.0 224.0,43.6 224.7,43.3 225.4,43.9 226.1,43.2 226.8,43.2 227.5,43.0 228.2,42.5 228.9,42.7 229.6,43.2 230.3,43.0 231.0,42.6 231.7,42.2 232.4,42.9 233.1,42.7 233.8,43.0 234.5,44.0 235.2,44.0 235.9,44.0 236.6,44.5 237.3,44.5 238.0,44.9 238.7,45.0 239.4,44.9 240.1,45.4 240.8,45.1 241.5,44.6 242.2,44.4 242.9,44.7 243.6,44.6 244.3,45.0 245.0,45.4 245.7,45.5 246.4,45.2 247.1,45.5 247.8,45.2 248.5,45.0 249.2,45.0 249.9,44.8 250.6,45.1 251.3,45.3 252.0,44.8 252.7,44.8 253.4,44.6 254.1,44.2 254.8,44.2 255.5,43.8 256.2,42.9 256.9,43.0 257.6,42.8 258.3,43.1 259.0,43.5 259.7,43.9 260.4,43.5 261.1,42.6 261.8,42.3 262.5,42.0 263.2,41.7 263.9,42.1 264.6,42.3 265.3,42.3 266.0,42.4 266.7,42.2 267.4,41.8 268.1,40.8 268.8,40.1 269.5,39.9 270.2,40.2 270.9,40.4 271.6,41.2 272.3,41.2 273.0,40.9 273.7,40.4 274.4,40.2 275.1,40.3 275.8,40.3 276.5,40.7 277.2,40.6 277.9,40.7 278.6,40.8 279.3,41.1 280.0,41.1 280.7,41.7 281.4,42.0 282.1,42.5 282.8,42.7 283.5,43.3 284.2,42.1 284.9,42.1 285.6,42.0 286.3,41.4 287.0,42.1 287.7,42.6 288.4,43.4 289.1,44.7 289.8,44.9 290.5,45.2 291.2,45.8 291.9,45.9 292.6,45.6 293.3,45.1 294.0,45.2 294.7,43.8 295.4,43.6 296.1,43.7 296.8,44.0 297.5,44.1 298.2,44.2 298.9,44.2 299.6,44.5" fill="none" stroke="#3f6cb2" stroke-width="1.6" stroke-linejoin="round"/>
<rect x="52.5" y="14.5" width="247.2" height="187.2" fill="none" stroke="#8a8a8a" stroke-width="1"/>
<line x1="52.5" y1="201.7" x2="52.5" y2="206.5" stroke="#7a7a7a" stroke-width="1"/>
<text x="53.4" y="218.7" text-anchor="middle" font-size="10" fill="#2a2a2a" textLength="17.6" lengthAdjust="spacingAndGlyphs">750</text>
<line x1="107.3" y1="201.7" x2="107.3" y2="206.5" stroke="#7a7a7a" stroke-width="1"/>
<text x="108.2" y="218.7" text-anchor="middle" font-size="10" fill="#2a2a2a" textLength="17.6" lengthAdjust="spacingAndGlyphs">800</text>
<line x1="162.1" y1="201.7" x2="162.1" y2="206.5" stroke="#7a7a7a" stroke-width="1"/>
<text x="163.0" y="218.7" text-anchor="middle" font-size="10" fill="#2a2a2a" textLength="17.6" lengthAdjust="spacingAndGlyphs">850</text>
<line x1="216.9" y1="201.7" x2="216.9" y2="206.5" stroke="#7a7a7a" stroke-width="1"/>
<text x="217.8" y="218.7" text-anchor="middle" font-size="10" fill="#2a2a2a" textLength="17.6" lengthAdjust="spacingAndGlyphs">900</text>
<line x1="271.7" y1="201.7" x2="271.7" y2="206.5" stroke="#7a7a7a" stroke-width="1"/>
<text x="272.6" y="218.7" text-anchor="middle" font-size="10" fill="#2a2a2a" textLength="17.6" lengthAdjust="spacingAndGlyphs">950</text>
<text x="133" y="235.8" font-size="11" fill="#2a2a2a" textLength="86.5" lengthAdjust="spacingAndGlyphs">Wavelength (nm)</text>
<text transform="translate(44,160.4) rotate(-90)" x="0" y="0" font-size="11" fill="#2a2a2a" textLength="104.60000000000001" lengthAdjust="spacingAndGlyphs">ΔAbsorbance (mOD)</text>
<text transform="translate(228.2,28.1) scale(0.985,1)" font-size="11" fill="#222">CeO<tspan font-size="8.3" dy="4.0">2</tspan><tspan dy="-6.0" dx="1.0" font-size="7.2">–</tspan><tspan dy="2.0" dx="1.1">IrO</tspan><tspan font-size="8.3" dy="4.0">2</tspan></text>
<line x1="145.3" y1="89.69999999999999" x2="145.3" y2="172.7" stroke="#222" stroke-width="1.0" stroke-dasharray="3.7,3.1"/><path d="M144.0,90.3 L145.3,87.1 L146.60000000000002,90.3 Z" fill="#222"/>
<line x1="289.6" y1="36.3" x2="289.6" y2="128.6" stroke="#222" stroke-width="1.0" stroke-dasharray="3.7,3.1"/><path d="M288.3,34.0 L289.6,30.8 L290.90000000000003,34.0 Z" fill="#222"/>
<text transform="translate(279.7,138.9) scale(1.01,1)" font-size="11" fill="#222">H<tspan font-size="6.6" dy="-4.7" dx="0.4">+</tspan></text>
<text transform="translate(148.6,172.2) scale(1.01,1)" font-size="11" fill="#222">Ir<tspan font-size="8" dy="-4.6" dx="0.2">6+</tspan></text>
<polyline clip-path="url(#cb)" points="379.3,158.2 380.0,157.1 380.7,156.0 381.4,154.6 382.1,152.9 382.8,151.5 383.5,150.7 384.2,150.6 384.9,150.7 385.6,150.1 386.3,149.0 387.0,148.3 387.7,147.6 388.4,147.4 389.1,147.6 389.8,148.0 390.5,148.3 391.2,148.8 391.9,148.7 392.6,148.6 393.3,149.5 394.0,149.5 394.7,150.0 395.4,150.1 396.1,150.5 396.8,150.2 397.5,150.9 398.2,151.2 398.9,151.9 399.6,152.4 400.3,153.3 401.0,153.4 401.7,153.3 402.4,153.4 403.1,153.0 403.8,152.9 404.5,152.7 405.2,152.6 405.9,152.2 406.6,151.8 407.3,152.1 408.0,150.8 408.7,151.0 409.4,150.8 410.1,150.6 410.8,150.3 411.5,150.2 412.2,149.4 412.9,148.4 413.6,147.3 414.3,145.7 415.0,144.3 415.7,143.3 416.4,142.0 417.1,141.6 417.8,140.8 418.5,140.6 419.2,139.7 419.9,138.6 420.6,136.7 421.3,135.1 422.0,133.5 422.7,132.4 423.4,131.7 424.1,131.2 424.8,130.4 425.5,130.2 426.2,129.2 426.9,128.5 427.6,128.3 428.3,128.0 429.0,127.5 429.7,127.0 430.4,127.0 431.1,126.4 431.8,126.6 432.5,127.9 433.2,127.8 433.9,127.6 434.6,127.5 435.3,127.0 436.0,127.5 436.7,127.3 437.4,128.2 438.1,129.3 438.8,130.0 439.5,130.9 440.2,130.4 440.9,130.7 441.6,130.9 442.3,131.3 443.0,132.0 443.7,132.6 444.4,133.8 445.1,133.7 445.8,134.1 446.5,134.4 447.2,134.6 447.9,135.1 448.6,135.9 449.3,136.7 450.0,137.3 450.7,138.1 451.4,138.5 452.1,139.5 452.8,139.2 453.5,140.0 454.2,139.8 454.9,139.8 455.6,140.1 456.3,140.7 457.0,141.8 457.7,142.2 458.4,142.6 459.1,142.5 459.8,142.9 460.5,142.2 461.2,141.9 461.9,141.0 462.6,140.7 463.3,140.3 464.0,139.8 464.7,139.6 465.4,139.7 466.1,139.3 466.8,139.2 467.5,138.0 468.2,138.3 468.9,138.2 469.6,137.7 470.3,137.9 471.0,138.7 471.7,138.5 472.4,138.8 473.1,139.2 473.8,139.3 474.5,140.2 475.2,140.9 475.9,142.3 476.6,143.3 477.3,143.7 478.0,143.5 478.7,144.3 479.4,144.4 480.1,144.6 480.8,145.5 481.5,145.4 482.2,146.7 482.9,146.7 483.6,147.7 484.3,147.9 485.0,148.2 485.7,148.8 486.4,149.0 487.1,149.1 487.8,149.4 488.5,149.5 489.2,150.6 489.9,151.6 490.6,152.5 491.3,153.3 492.0,154.1 492.7,155.2 493.4,156.1 494.1,156.7 494.8,157.8 495.5,159.2 496.2,158.9 496.9,159.3 497.6,159.1 498.3,159.4 499.0,160.8 499.7,161.9 500.4,163.4 501.1,164.6 501.8,164.8 502.5,165.7 503.2,166.3 503.9,166.5 504.6,167.0 505.3,168.2 506.0,168.2 506.7,168.7 507.4,169.3 508.1,170.1 508.8,171.0 509.5,172.4 510.2,173.4 510.9,173.8 511.6,174.2 512.3,174.9 513.0,175.0 513.7,175.5 514.4,176.3 515.1,177.0 515.8,177.1 516.5,177.3 517.2,178.0 517.9,177.6 518.6,178.1 519.3,178.9 520.0,179.2 520.7,179.2 521.4,179.7 522.1,180.5 522.8,180.5 523.5,180.6 524.2,181.0 524.9,181.2 525.6,181.3 526.3,182.3 527.0,182.2 527.7,182.1 528.4,182.2 529.1,182.7 529.8,182.6 530.5,183.0 531.2,182.7 531.9,182.9 532.6,182.3 533.3,181.9 534.0,181.3 534.7,181.1 535.4,181.2 536.1,181.8 536.8,181.2 537.5,181.5 538.2,182.2 538.9,182.4 539.6,182.2 540.3,182.2 541.0,181.5 541.7,181.5 542.4,181.7 543.1,181.9 543.8,181.7 544.5,181.6 545.2,181.3 545.9,180.6 546.6,179.8 547.3,179.0 548.0,179.2 548.7,179.5 549.4,179.4 550.1,179.5 550.8,180.4 551.5,181.0 552.2,181.7 552.9,181.8 553.6,181.9 554.3,182.4 555.0,182.9 555.7,183.6 556.4,184.2 557.1,184.7 557.8,185.7 558.5,186.0 559.2,187.3 559.9,188.0 560.6,189.1 561.3,189.2 562.0,189.4 562.7,190.0 563.4,190.1 564.1,190.2 564.8,190.9 565.5,191.3 566.2,192.2 566.9,192.8 567.6,193.4 568.3,193.6 569.0,193.5 569.7,193.9 570.4,193.9 571.1,194.4 571.8,195.0 572.5,195.8 573.2,196.5 573.9,197.4 574.6,197.6 575.3,197.2 576.0,197.5 576.7,198.1 577.4,198.4 578.1,199.1 578.8,199.2 579.5,200.0 580.2,200.0 580.9,200.1 581.6,200.3 582.3,200.7 583.0,200.8 583.7,200.1 584.4,199.5 585.1,199.6 585.8,199.2 586.5,199.9 587.2,200.3 587.9,200.1 588.6,200.0 589.3,200.0 590.0,199.7 590.7,199.4 591.4,199.3 592.1,199.0 592.8,198.4 593.5,197.9 594.2,197.5 594.9,197.1 595.6,196.4 596.3,194.8 597.0,194.3 597.7,193.2 598.4,192.2 599.1,191.5 599.8,190.6 600.5,189.9 601.2,188.2 601.9,187.2 602.6,185.4 603.3,183.7 604.0,182.6 604.7,181.6 605.4,180.5 606.1,180.0 606.8,179.1 607.5,177.6 608.2,176.8 608.9,175.5 609.6,174.6 610.3,174.0 611.0,173.8 611.7,172.8 612.4,172.3 613.1,172.4 613.8,171.8 614.5,172.1 615.2,172.4 615.9,173.8 616.6,175.1 617.3,177.2 618.0,179.7 618.7,182.5 619.4,185.2 620.1,188.0 620.8,191.6 621.5,195.7 622.2,200.2 622.9,203.4 623.6,206.2" fill="none" stroke="#d4302b" stroke-width="1.6" stroke-linejoin="round"/>
<polyline clip-path="url(#cb)" points="379.3,135.3 380.0,135.8 380.7,136.1 381.4,136.2 382.1,136.1 382.8,136.2 383.5,135.9 384.2,136.4 384.9,136.7 385.6,137.6 386.3,137.9 387.0,138.1 387.7,138.7 388.4,138.6 389.1,138.8 389.8,138.9 390.5,139.3 391.2,140.6 391.9,141.2 392.6,142.1 393.3,142.3 394.0,142.7 394.7,143.0 395.4,143.4 396.1,143.5 396.8,143.8 397.5,144.1 398.2,143.7 398.9,143.4 399.6,143.1 400.3,143.3 401.0,142.6 401.7,142.2 402.4,142.0 403.1,141.4 403.8,141.4 404.5,141.0 405.2,140.4 405.9,139.2 406.6,138.0 407.3,137.1 408.0,136.0 408.7,134.7 409.4,134.2 410.1,133.5 410.8,132.0 411.5,131.1 412.2,129.5 412.9,128.5 413.6,126.5 414.3,124.9 415.0,123.6 415.7,122.7 416.4,120.9 417.1,120.2 417.8,120.5 418.5,120.8 419.2,121.0 419.9,119.9 420.6,118.9 421.3,118.1 422.0,117.3 422.7,116.4 423.4,115.8 424.1,114.8 424.8,114.7 425.5,115.1 426.2,115.8 426.9,116.0 427.6,115.9 428.3,115.4 429.0,114.9 429.7,114.3 430.4,114.3 431.1,113.7 431.8,114.6 432.5,114.5 433.2,115.2 433.9,115.4 434.6,115.5 435.3,115.3 436.0,115.4 436.7,115.7 437.4,115.8 438.1,116.2 438.8,116.3 439.5,116.7 440.2,117.4 440.9,117.5 441.6,117.6 442.3,117.2 443.0,116.9 443.7,116.6 444.4,116.2 445.1,117.1 445.8,117.8 446.5,118.3 447.2,118.2 447.9,117.5 448.6,117.1 449.3,116.7 450.0,116.7 450.7,116.7 451.4,116.9 452.1,117.3 452.8,116.5 453.5,116.6 454.2,116.4 454.9,116.1 455.6,116.8 456.3,116.9 457.0,117.0 457.7,116.9 458.4,117.3 459.1,118.3 459.8,118.9 460.5,119.6 461.2,119.8 461.9,120.5 462.6,121.0 463.3,121.4 464.0,121.9 464.7,122.7 465.4,123.0 466.1,122.9 466.8,123.2 467.5,123.5 468.2,123.9 468.9,123.6 469.6,124.5 470.3,125.6 471.0,126.1 471.7,127.2 472.4,126.8 473.1,128.3 473.8,128.7 474.5,129.4 475.2,131.2 475.9,132.0 476.6,132.6 477.3,132.8 478.0,132.6 478.7,133.0 479.4,133.7 480.1,134.9 480.8,136.2 481.5,137.0 482.2,138.0 482.9,138.7 483.6,139.1 484.3,140.1 485.0,140.7 485.7,140.7 486.4,141.6 487.1,142.4 487.8,143.2 488.5,144.4 489.2,144.7 489.9,145.1 490.6,145.7 491.3,146.2 492.0,146.1 492.7,146.0 493.4,145.9 494.1,145.7 494.8,146.1 495.5,147.3 496.2,148.4 496.9,150.0 497.6,150.4 498.3,150.9 499.0,150.8 499.7,150.3 500.4,151.1 501.1,150.9 501.8,151.4 502.5,151.2 503.2,150.8 503.9,150.7 504.6,151.1 505.3,151.6 506.0,151.9 506.7,152.4 507.4,152.2 508.1,152.9 508.8,153.3 509.5,153.2 510.2,153.6 510.9,153.1 511.6,152.6 512.3,153.0 513.0,153.3 513.7,153.7 514.4,153.8 515.1,154.5 515.8,154.7 516.5,154.8 517.2,154.8 517.9,155.0 518.6,155.2 519.3,155.9 520.0,156.3 520.7,156.1 521.4,156.1 522.1,155.8 522.8,156.3 523.5,156.3 524.2,155.9 524.9,156.4 525.6,156.5 526.3,156.4 527.0,156.7 527.7,157.0 528.4,157.1 529.1,158.0 529.8,158.5 530.5,158.6 531.2,158.6 531.9,157.8 532.6,158.2 533.3,158.4 534.0,158.5 534.7,158.5 535.4,157.9 536.1,158.0 536.8,158.0 537.5,158.6 538.2,158.4 538.9,159.0 539.6,159.0 540.3,158.8 541.0,158.2 541.7,158.4 542.4,158.8 543.1,158.5 543.8,159.1 544.5,159.7 545.2,160.2 545.9,160.3 546.6,160.2 547.3,160.0 548.0,160.2 548.7,160.5 549.4,161.3 550.1,161.7 550.8,162.6 551.5,162.3 552.2,163.0 552.9,162.6 553.6,162.9 554.3,163.0 555.0,163.4 555.7,163.8 556.4,163.7 557.1,164.2 557.8,164.5 558.5,164.9 559.2,164.6 559.9,165.0 560.6,165.1 561.3,165.2 562.0,165.5 562.7,165.6 563.4,166.7 564.1,167.0 564.8,168.1 565.5,168.6 566.2,169.7 566.9,171.3 567.6,172.0 568.3,173.1 569.0,173.4 569.7,174.1 570.4,174.7 571.1,175.5 571.8,176.8 572.5,177.5 573.2,178.1 573.9,179.3 574.6,179.3 575.3,180.3 576.0,180.8 576.7,181.9 577.4,183.1 578.1,182.9 578.8,183.1 579.5,183.4 580.2,183.8 580.9,184.5 581.6,184.1 582.3,184.1 583.0,184.7 583.7,184.5 584.4,184.8 585.1,185.0 585.8,184.4 586.5,183.8 587.2,183.3 587.9,182.9 588.6,182.6 589.3,182.6 590.0,182.8 590.7,182.5 591.4,181.9 592.1,181.3 592.8,181.0 593.5,179.9 594.2,179.4 594.9,178.4 595.6,177.0 596.3,175.7 597.0,174.7 597.7,173.3 598.4,172.6 599.1,171.6 599.8,170.4 600.5,168.6 601.2,167.5 601.9,165.9 602.6,164.5 603.3,163.0 604.0,161.3 604.7,159.2 605.4,157.8 606.1,155.7 606.8,153.7 607.5,152.4 608.2,150.6 608.9,149.9 609.6,149.0 610.3,148.1 611.0,147.7 611.7,146.6 612.4,146.7 613.1,145.7 613.8,145.4 614.5,145.1 615.2,144.9 615.9,145.4 616.6,146.6 617.3,147.9 618.0,148.8 618.7,149.8 619.4,151.3 620.1,154.1 620.8,157.5 621.5,162.4 622.2,167.2 622.9,171.4 623.6,175.7 624.3,180.5 625.0,184.2 625.7,188.3 626.4,191.7" fill="none" stroke="#d8332c" stroke-width="1.6" stroke-linejoin="round"/>
<polyline clip-path="url(#cb)" points="379.3,122.5 380.0,123.1 380.7,124.4 381.4,124.8 382.1,125.7 382.8,125.6 383.5,125.6 384.2,125.9 384.9,127.3 385.6,127.9 386.3,127.7 387.0,128.7 387.7,128.8 388.4,129.3 389.1,129.8 389.8,130.0 390.5,130.3 391.2,130.1 391.9,130.0 392.6,131.1 393.3,131.3 394.0,131.1 394.7,131.2 395.4,130.4 396.1,129.6 396.8,128.2 397.5,126.9 398.2,125.7 398.9,125.1 399.6,125.1 400.3,124.4 401.0,124.4 401.7,123.2 402.4,123.0 403.1,122.3 403.8,121.5 404.5,121.3 405.2,120.2 405.9,119.0 406.6,118.1 407.3,117.4 408.0,116.2 408.7,116.3 409.4,115.5 410.1,114.6 410.8,114.0 411.5,112.9 412.2,111.5 412.9,110.3 413.6,109.7 414.3,109.2 415.0,108.2 415.7,107.9 416.4,107.1 417.1,105.9 417.8,104.5 418.5,103.7 419.2,102.3 419.9,101.4 420.6,101.0 421.3,100.3 422.0,100.5 422.7,100.5 423.4,100.2 424.1,99.8 424.8,99.4 425.5,98.7 426.2,98.4 426.9,97.4 427.6,97.5 428.3,97.1 429.0,97.6 429.7,97.8 430.4,98.0 431.1,97.6 431.8,97.0 432.5,96.8 433.2,96.3 433.9,95.7 434.6,94.9 435.3,94.4 436.0,94.5 436.7,94.3 437.4,94.3 438.1,94.4 438.8,94.0 439.5,94.6 440.2,94.0 440.9,94.3 441.6,94.9 442.3,94.8 443.0,95.5 443.7,95.3 444.4,94.7 445.1,94.2 445.8,94.2 446.5,94.0 447.2,94.9 447.9,94.9 448.6,94.9 449.3,95.0 450.0,95.5 450.7,95.9 451.4,95.9 452.1,96.5 452.8,96.6 453.5,97.1 454.2,97.0 454.9,97.6 455.6,97.4 456.3,97.8 457.0,98.1 457.7,98.9 458.4,98.9 459.1,99.9 459.8,100.2 460.5,100.6 461.2,101.2 461.9,102.2 462.6,102.9 463.3,103.1 464.0,104.1 464.7,105.6 465.4,106.4 466.1,107.6 466.8,108.1 467.5,108.7 468.2,109.1 468.9,109.8 469.6,110.9 470.3,111.8 471.0,112.7 471.7,113.5 472.4,114.4 473.1,114.7 473.8,115.2 474.5,116.0 475.2,116.6 475.9,116.8 476.6,117.4 477.3,118.1 478.0,118.4 478.7,118.6 479.4,119.7 480.1,120.7 480.8,122.4 481.5,122.8 482.2,123.6 482.9,123.7 483.6,123.5 484.3,124.4 485.0,125.0 485.7,125.3 486.4,126.8 487.1,126.5 487.8,126.7 488.5,126.7 489.2,127.0 489.9,127.6 490.6,128.5 491.3,130.0 492.0,130.9 492.7,131.7 493.4,132.3 494.1,131.9 494.8,131.4 495.5,131.8 496.2,131.6 496.9,131.7 497.6,131.6 498.3,131.3 499.0,131.4 499.7,131.9 500.4,132.5 501.1,132.7 501.8,134.1 502.5,134.4 503.2,134.6 503.9,134.8 504.6,134.8 505.3,135.3 506.0,136.0 506.7,136.3 507.4,136.3 508.1,136.2 508.8,136.2 509.5,136.9 510.2,136.9 510.9,136.8 511.6,136.4 512.3,136.7 513.0,136.6 513.7,137.6 514.4,137.8 515.1,138.1 515.8,138.7 516.5,139.6 517.2,139.5 517.9,138.8 518.6,138.9 519.3,138.6 520.0,138.6 520.7,139.1 521.4,139.7 522.1,139.5 522.8,139.4 523.5,139.5 524.2,139.8 524.9,140.0 525.6,139.4 526.3,139.4 527.0,140.2 527.7,140.1 528.4,140.8 529.1,140.7 529.8,141.3 530.5,141.2 531.2,141.7 531.9,142.3 532.6,142.4 533.3,142.4 534.0,143.0 534.7,142.8 535.4,142.6 536.1,142.8 536.8,142.7 537.5,142.6 538.2,142.5 538.9,143.7 539.6,144.2 540.3,144.3 541.0,143.9 541.7,144.5 542.4,144.4 543.1,144.4 543.8,144.0 544.5,144.2 545.2,145.2 545.9,145.8 546.6,146.4 547.3,146.9 548.0,147.0 548.7,146.6 549.4,146.3 550.1,146.1 550.8,146.3 551.5,146.5 552.2,147.2 552.9,147.7 553.6,148.0 554.3,148.9 555.0,148.3 555.7,148.6 556.4,148.7 557.1,149.0 557.8,148.6 558.5,149.5 559.2,149.7 559.9,149.8 560.6,149.1 561.3,149.6 562.0,149.6 562.7,149.6 563.4,150.4 564.1,150.3 564.8,151.4 565.5,151.9 566.2,152.0 566.9,152.8 567.6,153.5 568.3,154.2 569.0,154.7 569.7,154.6 570.4,155.0 571.1,154.9 571.8,155.5 572.5,157.2 573.2,158.6 573.9,159.2 574.6,159.4 575.3,160.2 576.0,161.0 576.7,161.0 577.4,161.4 578.1,161.7 578.8,162.4 579.5,162.1 580.2,162.4 580.9,162.6 581.6,162.7 582.3,162.3 583.0,162.7 583.7,162.8 584.4,162.8 585.1,162.8 585.8,162.2 586.5,161.9 587.2,161.4 587.9,161.3 588.6,160.4 589.3,159.8 590.0,158.3 590.7,157.6 591.4,156.9 592.1,156.4 592.8,156.1 593.5,155.1 594.2,154.1 594.9,152.9 595.6,152.8 596.3,151.9 597.0,151.4 597.7,150.5 598.4,150.1 599.1,148.8 599.8,148.3 600.5,147.6 601.2,146.7 601.9,145.7 602.6,144.5 603.3,143.3 604.0,143.0 604.7,142.1 605.4,141.0 606.1,140.0 606.8,138.9 607.5,137.9 608.2,137.7 608.9,136.9 609.6,135.5 610.3,134.8 611.0,133.3 611.7,132.3 612.4,131.2 613.1,130.9 613.8,130.9 614.5,131.3 615.2,131.2 615.9,131.9 616.6,131.8 617.3,131.9 618.0,133.0 618.7,133.5 619.4,135.2 620.1,136.3 620.8,136.8 621.5,138.2 622.2,140.8 622.9,145.3 623.6,150.4 624.3,156.3 625.0,160.9 625.7,164.3" fill="none" stroke="#f4925a" stroke-width="1.6" stroke-linejoin="round"/>
<polyline clip-path="url(#cb)" points="379.3,111.1 380.0,111.8 380.7,112.9 381.4,113.5 382.1,113.8 382.8,113.9 383.5,114.3 384.2,114.4 384.9,114.5 385.6,114.2 386.3,114.0 387.0,113.8 387.7,113.6 388.4,113.0 389.1,112.3 389.8,112.2 390.5,112.0 391.2,112.3 391.9,113.1 392.6,113.6 393.3,114.3 394.0,114.3 394.7,114.7 395.4,114.2 396.1,113.5 396.8,112.9 397.5,112.3 398.2,111.3 398.9,111.5 399.6,110.3 400.3,109.9 401.0,109.3 401.7,107.7 402.4,107.1 403.1,106.2 403.8,105.8 404.5,104.6 405.2,103.5 405.9,103.1 406.6,102.3 407.3,101.2 408.0,100.9 408.7,99.9 409.4,99.6 410.1,98.2 410.8,96.3 411.5,94.9 412.2,93.3 412.9,92.0 413.6,90.5 414.3,89.2 415.0,87.9 415.7,86.8 416.4,86.7 417.1,87.0 417.8,86.7 418.5,85.9 419.2,85.3 419.9,84.7 420.6,84.2 421.3,83.4 422.0,83.4 422.7,82.4 423.4,81.8 424.1,80.5 424.8,80.6 425.5,80.8 426.2,80.3 426.9,81.2 427.6,81.0 428.3,80.6 429.0,80.2 429.7,80.4 430.4,79.8 431.1,79.6 431.8,79.0 432.5,78.5 433.2,78.4 433.9,77.6 434.6,77.8 435.3,77.2 436.0,77.6 436.7,77.9 437.4,78.9 438.1,78.8 438.8,79.3 439.5,79.8 440.2,79.6 440.9,79.9 441.6,79.4 442.3,79.1 443.0,79.2 443.7,78.8 444.4,79.3 445.1,79.6 445.8,79.5 446.5,79.3 447.2,79.4 447.9,79.6 448.6,80.2 449.3,80.2 450.0,80.3 450.7,80.8 451.4,81.3 452.1,81.6 452.8,82.1 453.5,82.1 454.2,83.1 454.9,83.7 455.6,84.2 456.3,84.9 457.0,85.8 457.7,87.0 458.4,87.7 459.1,88.3 459.8,89.0 460.5,90.0 461.2,90.7 461.9,91.5 462.6,92.7 463.3,93.6 464.0,94.0 464.7,94.9 465.4,95.2 466.1,96.3 466.8,97.1 467.5,98.2 468.2,99.0 468.9,99.2 469.6,100.4 470.3,100.9 471.0,100.9 471.7,101.9 472.4,102.7 473.1,103.3 473.8,104.2 474.5,104.6 475.2,105.1 475.9,105.1 476.6,105.4 477.3,106.0 478.0,106.7 478.7,107.3 479.4,107.8 480.1,108.2 480.8,108.7 481.5,109.3 482.2,110.1 482.9,110.9 483.6,111.5 484.3,112.0 485.0,112.3 485.7,112.7 486.4,112.9 487.1,112.8 487.8,113.5 488.5,113.7 489.2,114.2 489.9,114.7 490.6,115.3 491.3,115.9 492.0,116.3 492.7,117.5 493.4,118.1 494.1,117.9 494.8,118.6 495.5,118.8 496.2,119.5 496.9,120.0 497.6,120.5 498.3,120.8 499.0,120.4 499.7,121.1 500.4,121.3 501.1,121.2 501.8,122.3 502.5,122.4 503.2,122.5 503.9,122.4 504.6,122.2 505.3,122.1 506.0,122.9 506.7,123.5 507.4,124.8 508.1,125.3 508.8,125.2 509.5,125.5 510.2,125.8 510.9,126.0 511.6,125.9 512.3,125.9 513.0,126.5 513.7,126.2 514.4,125.6 515.1,125.7 515.8,126.2 516.5,126.9 517.2,127.6 517.9,127.8 518.6,127.7 519.3,127.8 520.0,127.5 520.7,127.1 521.4,127.1 522.1,127.7 522.8,127.9 523.5,127.8 524.2,128.1 524.9,127.9 525.6,128.7 526.3,129.1 527.0,129.4 527.7,129.9 528.4,130.2 529.1,129.2 529.8,129.1 530.5,129.4 531.2,128.9 531.9,129.5 532.6,129.7 533.3,130.2 534.0,129.8 534.7,129.9 535.4,130.1 536.1,130.1 536.8,130.3 537.5,130.6 538.2,130.9 538.9,131.0 539.6,130.8 540.3,130.0 541.0,129.6 541.7,129.9 542.4,129.6 543.1,129.4 543.8,129.9 544.5,130.4 545.2,130.4 545.9,131.2 546.6,131.0 547.3,131.4 548.0,132.3 548.7,131.7 549.4,132.2 550.1,131.6 550.8,131.5 551.5,131.5 552.2,131.3 552.9,131.3 553.6,131.0 554.3,131.0 555.0,130.8 555.7,131.0 556.4,130.9 557.1,131.6 557.8,131.5 558.5,132.5 559.2,132.7 559.9,132.9 560.6,133.2 561.3,132.9 562.0,132.4 562.7,133.0 563.4,132.1 564.1,132.6 564.8,132.5 565.5,132.6 566.2,133.6 566.9,134.3 567.6,135.3 568.3,135.1 569.0,135.9 569.7,136.1 570.4,136.0 571.1,136.3 571.8,137.0 572.5,137.0 573.2,137.2 573.9,137.5 574.6,137.5 575.3,137.8 576.0,138.1 576.7,138.5 577.4,139.6 578.1,141.0 578.8,141.6 579.5,141.5 580.2,141.6 580.9,141.7 581.6,142.0 582.3,141.7 583.0,141.3 583.7,140.7 584.4,140.3 585.1,140.2 585.8,139.2 586.5,138.5 587.2,138.6 587.9,137.8 588.6,137.4 589.3,137.5 590.0,137.2 590.7,136.8 591.4,136.2 592.1,135.7 592.8,134.4 593.5,133.8 594.2,132.8 594.9,132.9 595.6,132.8 596.3,132.8 597.0,132.3 597.7,131.7 598.4,131.0 599.1,129.9 599.8,129.0 600.5,128.8 601.2,127.8 601.9,127.2 602.6,126.6 603.3,126.0 604.0,125.0 604.7,124.0 605.4,123.3 606.1,122.5 606.8,121.9 607.5,121.5 608.2,121.1 608.9,120.6 609.6,120.4 610.3,120.0 611.0,119.6 611.7,118.9 612.4,119.2 613.1,119.1 613.8,118.9 614.5,119.3 615.2,119.4 615.9,119.6 616.6,119.6 617.3,120.4 618.0,121.2 618.7,122.3 619.4,122.5 620.1,123.5 620.8,124.5 621.5,125.9 622.2,128.1 622.9,130.5 623.6,133.6 624.3,137.7 625.0,140.4 625.7,142.8" fill="none" stroke="#f7955f" stroke-width="1.6" stroke-linejoin="round"/>
<polyline clip-path="url(#cb)" points="379.3,95.9 380.0,97.5 380.7,98.9 381.4,99.4 382.1,100.6 382.8,100.7 383.5,100.9 384.2,101.1 384.9,101.3 385.6,101.3 386.3,101.8 387.0,100.7 387.7,99.8 388.4,99.3 389.1,98.5 389.8,98.6 390.5,98.2 391.2,98.6 391.9,98.9 392.6,99.1 393.3,99.1 394.0,98.9 394.7,98.9 395.4,98.1 396.1,97.7 396.8,97.2 397.5,96.8 398.2,96.0 398.9,95.2 399.6,93.7 400.3,92.5 401.0,90.8 401.7,89.1 402.4,87.6 403.1,86.0 403.8,85.5 404.5,84.5 405.2,83.3 405.9,82.6 406.6,82.0 407.3,80.7 408.0,79.8 408.7,78.9 409.4,78.2 410.1,77.9 410.8,77.7 411.5,77.5 412.2,76.3 412.9,74.6 413.6,73.6 414.3,72.3 415.0,71.7 415.7,71.5 416.4,70.8 417.1,70.1 417.8,70.1 418.5,68.8 419.2,68.6 419.9,67.5 420.6,67.2 421.3,66.4 422.0,65.7 422.7,64.8 423.4,64.8 424.1,64.6 424.8,64.3 425.5,64.4 426.2,64.7 426.9,64.1 427.6,64.2 428.3,63.8 429.0,64.1 429.7,64.4 430.4,64.9 431.1,64.7 431.8,64.6 432.5,64.6 433.2,63.6 433.9,63.5 434.6,62.7 435.3,62.4 436.0,62.6 436.7,62.5 437.4,62.9 438.1,62.5 438.8,63.1 439.5,62.9 440.2,62.9 440.9,62.8 441.6,63.9 442.3,64.1 443.0,63.9 443.7,63.6 444.4,63.5 445.1,64.1 445.8,64.2 446.5,64.6 447.2,65.4 447.9,66.1 448.6,67.0 449.3,68.0 450.0,68.5 450.7,68.9 451.4,68.7 452.1,69.4 452.8,70.0 453.5,70.9 454.2,71.8 454.9,72.6 455.6,73.5 456.3,74.4 457.0,74.4 457.7,74.2 458.4,74.7 459.1,75.1 459.8,75.6 460.5,76.8 461.2,77.5 461.9,78.5 462.6,79.3 463.3,79.9 464.0,80.5 464.7,81.2 465.4,81.7 466.1,82.8 466.8,83.3 467.5,83.7 468.2,84.3 468.9,84.5 469.6,85.4 470.3,85.6 471.0,86.5 471.7,86.8 472.4,87.4 473.1,87.9 473.8,88.7 474.5,89.8 475.2,90.2 475.9,91.2 476.6,91.9 477.3,92.2 478.0,92.7 478.7,93.6 479.4,94.1 480.1,94.7 480.8,95.1 481.5,95.3 482.2,96.1 482.9,96.8 483.6,97.1 484.3,97.9 485.0,98.3 485.7,99.3 486.4,100.0 487.1,99.8 487.8,101.1 488.5,102.0 489.2,102.3 489.9,102.9 490.6,103.3 491.3,103.9 492.0,104.6 492.7,104.9 493.4,104.6 494.1,104.5 494.8,104.3 495.5,104.4 496.2,106.0 496.9,107.1 497.6,107.7 498.3,108.8 499.0,108.8 499.7,109.0 500.4,109.7 501.1,109.1 501.8,109.5 502.5,110.2 503.2,110.1 503.9,110.2 504.6,110.9 505.3,110.9 506.0,110.8 506.7,111.3 507.4,112.0 508.1,112.5 508.8,112.0 509.5,112.8 510.2,113.1 510.9,113.3 511.6,114.1 512.3,114.1 513.0,114.4 513.7,114.7 514.4,114.3 515.1,114.4 515.8,114.5 516.5,114.9 517.2,115.1 517.9,114.4 518.6,114.3 519.3,114.0 520.0,113.4 520.7,113.2 521.4,113.7 522.1,114.2 522.8,114.3 523.5,114.9 524.2,115.4 524.9,115.3 525.6,115.0 526.3,115.1 527.0,115.3 527.7,115.4 528.4,116.1 529.1,115.8 529.8,115.5 530.5,115.4 531.2,115.8 531.9,115.6 532.6,115.5 533.3,116.1 534.0,116.3 534.7,116.4 535.4,116.6 536.1,116.6 536.8,116.6 537.5,116.5 538.2,116.9 538.9,116.3 539.6,116.6 540.3,116.2 541.0,115.9 541.7,115.0 542.4,115.9 543.1,115.4 543.8,115.8 544.5,116.2 545.2,115.8 545.9,115.5 546.6,115.3 547.3,116.1 548.0,116.8 548.7,117.5 549.4,117.7 550.1,118.1 550.8,118.4 551.5,118.1 552.2,117.7 552.9,117.8 553.6,116.8 554.3,117.4 555.0,117.6 555.7,118.5 556.4,118.3 557.1,118.3 557.8,117.9 558.5,117.6 559.2,117.9 559.9,117.9 560.6,118.2 561.3,118.0 562.0,118.0 562.7,117.9 563.4,117.8 564.1,118.2 564.8,118.3 565.5,117.9 566.2,118.4 566.9,118.5 567.6,119.2 568.3,119.5 569.0,120.1 569.7,120.6 570.4,120.3 571.1,121.0 571.8,121.2 572.5,121.3 573.2,121.5 573.9,121.3 574.6,121.5 575.3,121.2 576.0,121.2 576.7,121.9 577.4,121.7 578.1,121.6 578.8,122.6 579.5,122.4 580.2,122.0 580.9,123.0 581.6,123.4 582.3,123.4 583.0,123.6 583.7,123.0 584.4,122.9 585.1,122.4 585.8,122.5 586.5,122.6 587.2,122.1 587.9,121.8 588.6,120.9 589.3,120.5 590.0,119.4 590.7,119.3 591.4,118.9 592.1,119.5 592.8,119.6 593.5,120.2 594.2,119.2 594.9,118.7 595.6,118.4 596.3,117.0 597.0,116.1 597.7,116.3 598.4,116.4 599.1,116.5 599.8,115.8 600.5,115.7 601.2,114.4 601.9,114.4 602.6,113.0 603.3,112.0 604.0,111.7 604.7,111.3 605.4,110.9 606.1,111.4 606.8,110.7 607.5,110.2 608.2,110.5 608.9,110.0 609.6,109.6 610.3,109.0 611.0,108.4 611.7,108.5 612.4,108.4 613.1,108.1 613.8,108.5 614.5,108.3 615.2,109.1 615.9,109.4 616.6,109.1 617.3,109.3 618.0,109.7 618.7,110.2 619.4,110.6 620.1,111.0 620.8,111.7 621.5,112.4 622.2,113.6 622.9,115.5 623.6,117.7 624.3,120.0 625.0,122.5 625.7,124.6" fill="none" stroke="#fdd07a" stroke-width="1.6" stroke-linejoin="round"/>
<polyline clip-path="url(#cb)" points="379.3,81.2 380.0,82.0 380.7,83.6 381.4,83.7 382.1,84.3 382.8,84.0 383.5,82.9 384.2,82.8 384.9,82.8 385.6,83.4 386.3,83.7 387.0,83.6 387.7,83.0 388.4,81.9 389.1,81.9 389.8,81.6 390.5,82.1 391.2,82.3 391.9,82.6 392.6,82.0 393.3,81.8 394.0,81.0 394.7,80.9 395.4,80.1 396.1,79.8 396.8,78.5 397.5,77.7 398.2,76.8 398.9,76.1 399.6,75.3 400.3,73.8 401.0,72.1 401.7,69.8 402.4,69.0 403.1,67.4 403.8,67.0 404.5,66.6 405.2,64.6 405.9,64.2 406.6,63.8 407.3,63.6 408.0,62.9 408.7,62.4 409.4,61.3 410.1,60.4 410.8,58.6 411.5,57.8 412.2,56.1 412.9,55.7 413.6,56.1 414.3,54.9 415.0,53.5 415.7,53.1 416.4,52.1 417.1,51.6 417.8,50.9 418.5,50.8 419.2,50.1 419.9,49.3 420.6,49.7 421.3,49.4 422.0,49.9 422.7,49.9 423.4,49.6 424.1,49.8 424.8,49.8 425.5,49.8 426.2,49.4 426.9,49.2 427.6,49.0 428.3,48.3 429.0,47.6 429.7,46.9 430.4,46.6 431.1,46.9 431.8,48.4 432.5,48.9 433.2,49.5 433.9,49.8 434.6,49.6 435.3,50.0 436.0,49.6 436.7,50.2 437.4,50.4 438.1,51.3 438.8,51.2 439.5,51.3 440.2,51.4 440.9,51.3 441.6,50.6 442.3,50.4 443.0,50.2 443.7,51.2 444.4,51.2 445.1,51.2 445.8,52.3 446.5,52.9 447.2,52.7 447.9,54.2 448.6,53.6 449.3,54.0 450.0,53.6 450.7,53.9 451.4,54.4 452.1,55.2 452.8,55.9 453.5,57.1 454.2,56.9 454.9,57.6 455.6,57.8 456.3,58.1 457.0,58.8 457.7,59.3 458.4,59.8 459.1,60.4 459.8,61.0 460.5,61.6 461.2,62.5 461.9,63.5 462.6,64.6 463.3,65.8 464.0,66.7 464.7,67.6 465.4,68.6 466.1,69.3 466.8,70.1 467.5,70.6 468.2,71.6 468.9,72.3 469.6,73.3 470.3,74.6 471.0,74.8 471.7,76.1 472.4,77.0 473.1,78.2 473.8,79.0 474.5,79.1 475.2,79.1 475.9,80.5 476.6,81.1 477.3,81.2 478.0,82.3 478.7,83.3 479.4,83.9 480.1,85.5 480.8,86.1 481.5,86.5 482.2,86.5 482.9,86.9 483.6,87.4 484.3,88.4 485.0,88.8 485.7,90.0 486.4,90.2 487.1,89.8 487.8,91.1 488.5,91.5 489.2,92.0 489.9,93.0 490.6,93.0 491.3,93.5 492.0,93.1 492.7,93.5 493.4,94.3 494.1,95.1 494.8,95.5 495.5,96.0 496.2,96.7 496.9,96.1 497.6,95.9 498.3,95.9 499.0,95.8 499.7,96.9 500.4,96.6 501.1,97.5 501.8,96.7 502.5,97.1 503.2,97.5 503.9,98.4 504.6,98.7 505.3,98.8 506.0,99.1 506.7,99.6 507.4,100.2 508.1,100.4 508.8,100.5 509.5,100.6 510.2,101.2 510.9,101.2 511.6,101.3 512.3,101.0 513.0,100.6 513.7,100.3 514.4,100.3 515.1,100.7 515.8,102.2 516.5,102.7 517.2,102.7 517.9,103.0 518.6,102.8 519.3,102.6 520.0,101.5 520.7,101.5 521.4,101.7 522.1,101.4 522.8,102.0 523.5,102.7 524.2,103.1 524.9,104.3 525.6,104.5 526.3,104.6 527.0,104.4 527.7,104.8 528.4,104.9 529.1,104.7 529.8,104.7 530.5,104.3 531.2,104.5 531.9,104.7 532.6,104.9 533.3,104.8 534.0,104.6 534.7,103.9 535.4,103.5 536.1,103.6 536.8,103.3 537.5,102.9 538.2,103.3 538.9,103.6 539.6,103.8 540.3,104.0 541.0,104.2 541.7,104.7 542.4,105.3 543.1,105.0 543.8,104.7 544.5,104.6 545.2,103.8 545.9,103.9 546.6,103.6 547.3,104.0 548.0,103.9 548.7,104.2 549.4,104.6 550.1,104.0 550.8,103.9 551.5,104.3 552.2,104.3 552.9,104.3 553.6,103.8 554.3,103.6 555.0,103.0 555.7,102.3 556.4,103.0 557.1,103.5 557.8,104.0 558.5,103.7 559.2,103.5 559.9,104.1 560.6,104.1 561.3,104.8 562.0,105.3 562.7,105.6 563.4,105.6 564.1,105.4 564.8,105.8 565.5,105.1 566.2,104.7 566.9,105.0 567.6,104.7 568.3,104.3 569.0,104.6 569.7,104.9 570.4,105.0 571.1,104.9 571.8,105.5 572.5,105.7 573.2,106.1 573.9,106.6 574.6,107.6 575.3,107.9 576.0,107.4 576.7,107.0 577.4,106.3 578.1,106.3 578.8,106.2 579.5,106.0 580.2,106.4 580.9,107.3 581.6,106.9 582.3,107.4 583.0,107.3 583.7,107.5 584.4,106.8 585.1,106.6 585.8,106.2 586.5,106.4 587.2,106.8 587.9,106.4 588.6,105.6 589.3,105.9 590.0,104.9 590.7,104.3 591.4,104.1 592.1,103.4 592.8,103.1 593.5,102.8 594.2,103.0 594.9,103.2 595.6,103.0 596.3,103.4 597.0,102.9 597.7,102.8 598.4,102.3 599.1,102.0 599.8,101.8 600.5,102.1 601.2,101.5 601.9,101.3 602.6,101.6 603.3,100.9 604.0,101.2 604.7,100.9 605.4,100.2 606.1,100.1 606.8,99.8 607.5,99.6 608.2,99.5 608.9,99.6 609.6,99.0 610.3,99.0 611.0,99.3 611.7,99.4 612.4,99.8 613.1,99.2 613.8,98.6 614.5,99.0 615.2,99.1 615.9,99.0 616.6,99.6 617.3,99.6 618.0,98.9 618.7,98.9 619.4,98.8 620.1,99.3 620.8,99.8 621.5,100.6 622.2,101.2 622.9,102.7 623.6,103.7 624.3,105.0 625.0,106.2 625.7,107.5" fill="none" stroke="#88b9de" stroke-width="1.6" stroke-linejoin="round"/>
<polyline clip-path="url(#cb)" points="379.3,65.0 380.0,66.0 380.7,66.0 381.4,66.4 382.1,67.2 382.8,67.3 383.5,67.4 384.2,67.7 384.9,67.4 385.6,67.0 386.3,66.2 387.0,66.0 387.7,66.2 388.4,66.9 389.1,67.0 389.8,66.1 390.5,66.2 391.2,65.6 391.9,65.8 392.6,65.5 393.3,65.6 394.0,65.1 394.7,64.8 395.4,64.4 396.1,63.9 396.8,62.9 397.5,61.5 398.2,60.9 398.9,59.3 399.6,58.3 400.3,58.0 401.0,57.6 401.7,57.6 402.4,56.9 403.1,54.7 403.8,53.7 404.5,52.4 405.2,52.6 405.9,51.9 406.6,50.9 407.3,49.7 408.0,48.1 408.7,46.5 409.4,45.2 410.1,44.7 410.8,44.4 411.5,43.7 412.2,43.6 412.9,42.3 413.6,41.4 414.3,40.6 415.0,40.3 415.7,39.2 416.4,39.2 417.1,38.6 417.8,37.9 418.5,36.7 419.2,36.6 419.9,35.6 420.6,35.6 421.3,36.1 422.0,36.5 422.7,37.3 423.4,37.2 424.1,37.2 424.8,36.9 425.5,36.2 426.2,35.8 426.9,35.0 427.6,35.0 428.3,34.3 429.0,33.8 429.7,33.8 430.4,33.6 431.1,33.2 431.8,33.1 432.5,33.3 433.2,33.4 433.9,33.3 434.6,33.4 435.3,33.0 436.0,34.1 436.7,34.2 437.4,34.3 438.1,35.2 438.8,35.6 439.5,36.2 440.2,36.1 440.9,37.1 441.6,37.0 442.3,36.9 443.0,37.9 443.7,38.0 444.4,38.3 445.1,38.8 445.8,38.7 446.5,39.4 447.2,39.1 447.9,39.1 448.6,39.4 449.3,39.4 450.0,39.9 450.7,40.5 451.4,41.5 452.1,42.2 452.8,42.2 453.5,42.4 454.2,43.3 454.9,44.1 455.6,45.1 456.3,46.6 457.0,46.5 457.7,47.1 458.4,47.0 459.1,47.9 459.8,48.8 460.5,49.6 461.2,49.6 461.9,50.6 462.6,51.4 463.3,52.0 464.0,53.6 464.7,53.6 465.4,53.9 466.1,54.7 466.8,54.7 467.5,56.2 468.2,57.0 468.9,57.7 469.6,58.8 470.3,59.5 471.0,60.3 471.7,60.2 472.4,60.6 473.1,61.0 473.8,62.1 474.5,62.6 475.2,63.6 475.9,64.3 476.6,64.6 477.3,64.9 478.0,65.9 478.7,66.4 479.4,67.2 480.1,68.3 480.8,68.4 481.5,69.0 482.2,70.3 482.9,70.0 483.6,70.2 484.3,70.6 485.0,70.9 485.7,71.3 486.4,72.2 487.1,73.0 487.8,73.7 488.5,74.7 489.2,75.0 489.9,75.9 490.6,77.0 491.3,77.0 492.0,77.7 492.7,77.5 493.4,77.4 494.1,78.2 494.8,78.0 495.5,78.8 496.2,79.5 496.9,80.3 497.6,80.4 498.3,80.8 499.0,80.7 499.7,80.7 500.4,80.0 501.1,80.8 501.8,81.4 502.5,81.8 503.2,81.6 503.9,82.3 504.6,82.6 505.3,82.7 506.0,82.7 506.7,82.5 507.4,82.6 508.1,83.0 508.8,83.5 509.5,83.4 510.2,83.7 510.9,84.3 511.6,85.4 512.3,85.8 513.0,85.9 513.7,85.5 514.4,84.9 515.1,84.5 515.8,84.9 516.5,85.9 517.2,87.0 517.9,87.6 518.6,87.5 519.3,87.7 520.0,88.1 520.7,87.7 521.4,87.8 522.1,87.3 522.8,87.0 523.5,86.7 524.2,87.0 524.9,87.1 525.6,87.3 526.3,86.8 527.0,87.2 527.7,87.8 528.4,88.5 529.1,89.2 529.8,89.5 530.5,89.1 531.2,89.2 531.9,89.1 532.6,89.8 533.3,89.6 534.0,90.1 534.7,90.6 535.4,90.3 536.1,90.5 536.8,90.4 537.5,90.1 538.2,90.5 538.9,90.7 539.6,91.1 540.3,91.0 541.0,91.0 541.7,91.0 542.4,91.2 543.1,91.1 543.8,91.4 544.5,91.1 545.2,90.4 545.9,90.1 546.6,90.1 547.3,90.2 548.0,90.2 548.7,90.6 549.4,90.1 550.1,90.6 550.8,90.7 551.5,90.3 552.2,90.3 552.9,90.4 553.6,91.1 554.3,92.0 555.0,92.0 555.7,91.0 556.4,90.5 557.1,90.0 557.8,90.3 558.5,90.4 559.2,90.8 559.9,91.2 560.6,90.6 561.3,90.7 562.0,90.0 562.7,89.5 563.4,89.7 564.1,89.4 564.8,90.1 565.5,90.3 566.2,89.8 566.9,89.6 567.6,89.3 568.3,89.2 569.0,89.3 569.7,89.3 570.4,89.0 571.1,88.7 571.8,88.6 572.5,88.8 573.2,88.7 573.9,89.5 574.6,89.8 575.3,90.7 576.0,90.3 576.7,90.3 577.4,90.3 578.1,90.3 578.8,90.2 579.5,91.0 580.2,90.8 580.9,91.0 581.6,90.9 582.3,91.6 583.0,91.8 583.7,92.0 584.4,91.7 585.1,91.9 585.8,91.1 586.5,90.7 587.2,90.6 587.9,90.2 588.6,90.7 589.3,90.7 590.0,89.9 590.7,88.8 591.4,87.6 592.1,86.9 592.8,86.5 593.5,87.0 594.2,86.9 594.9,87.0 595.6,87.6 596.3,87.5 597.0,87.1 597.7,87.7 598.4,87.1 599.1,86.1 599.8,86.0 600.5,86.1 601.2,85.9 601.9,85.8 602.6,86.0 603.3,86.3 604.0,86.5 604.7,86.7 605.4,86.5 606.1,86.0 606.8,85.5 607.5,84.6 608.2,84.7 608.9,83.4 609.6,83.5 610.3,83.3 611.0,83.4 611.7,83.4 612.4,83.7 613.1,83.4 613.8,83.6 614.5,83.7 615.2,83.8 615.9,84.1 616.6,85.2 617.3,85.5 618.0,86.1 618.7,86.4 619.4,86.4 620.1,86.2 620.8,86.2 621.5,86.4 622.2,86.7 622.9,87.0 623.6,87.6 624.3,87.6 625.0,88.9 625.7,89.4" fill="none" stroke="#3d68b0" stroke-width="1.6" stroke-linejoin="round"/>
<polyline clip-path="url(#cb)" points="379.3,54.3 380.0,54.2 380.7,54.1 381.4,53.8 382.1,53.7 382.8,53.9 383.5,53.6 384.2,53.3 384.9,54.1 385.6,53.8 386.3,53.6 387.0,53.8 387.7,53.6 388.4,53.3 389.1,53.3 389.8,52.7 390.5,52.8 391.2,52.6 391.9,52.9 392.6,52.6 393.3,52.3 394.0,51.8 394.7,51.3 395.4,50.9 396.1,51.2 396.8,50.7 397.5,50.0 398.2,49.5 398.9,48.4 399.6,47.3 400.3,46.5 401.0,45.5 401.7,44.1 402.4,43.0 403.1,42.3 403.8,42.1 404.5,40.7 405.2,39.9 405.9,38.2 406.6,37.0 407.3,35.7 408.0,34.8 408.7,34.5 409.4,34.4 410.1,33.0 410.8,32.1 411.5,31.0 412.2,30.5 412.9,30.1 413.6,29.5 414.3,29.2 415.0,27.8 415.7,27.0 416.4,26.1 417.1,25.2 417.8,24.5 418.5,24.7 419.2,24.3 419.9,25.5 420.6,25.7 421.3,25.5 422.0,25.3 422.7,25.3 423.4,25.2 424.1,25.2 424.8,24.3 425.5,24.0 426.2,23.5 426.9,23.2 427.6,22.9 428.3,22.4 429.0,22.2 429.7,22.3 430.4,22.8 431.1,23.6 431.8,24.4 432.5,24.2 433.2,23.4 433.9,23.1 434.6,22.4 435.3,22.4 436.0,23.4 436.7,23.0 437.4,23.4 438.1,23.7 438.8,24.5 439.5,24.5 440.2,25.2 440.9,25.1 441.6,25.0 442.3,25.4 443.0,25.8 443.7,26.1 444.4,26.6 445.1,27.0 445.8,27.5 446.5,27.7 447.2,28.2 447.9,28.5 448.6,28.4 449.3,28.5 450.0,28.0 450.7,28.0 451.4,28.5 452.1,29.4 452.8,30.1 453.5,31.0 454.2,31.3 454.9,32.3 455.6,33.0 456.3,33.3 457.0,34.0 457.7,34.6 458.4,35.1 459.1,36.3 459.8,36.2 460.5,37.3 461.2,37.6 461.9,38.2 462.6,39.1 463.3,39.9 464.0,40.6 464.7,41.5 465.4,41.6 466.1,42.9 466.8,43.4 467.5,43.9 468.2,43.9 468.9,44.2 469.6,45.1 470.3,45.9 471.0,46.9 471.7,47.5 472.4,48.5 473.1,49.1 473.8,48.8 474.5,49.7 475.2,49.4 475.9,50.6 476.6,52.1 477.3,53.1 478.0,54.3 478.7,55.4 479.4,55.6 480.1,56.3 480.8,56.5 481.5,56.7 482.2,56.7 482.9,56.4 483.6,56.6 484.3,57.2 485.0,57.8 485.7,58.6 486.4,59.0 487.1,59.9 487.8,60.7 488.5,61.1 489.2,61.3 489.9,61.4 490.6,61.5 491.3,62.0 492.0,62.5 492.7,62.7 493.4,63.8 494.1,64.2 494.8,65.1 495.5,64.7 496.2,64.7 496.9,64.3 497.6,65.0 498.3,66.0 499.0,66.8 499.7,67.8 500.4,68.4 501.1,68.1 501.8,67.9 502.5,67.7 503.2,68.1 503.9,68.6 504.6,68.8 505.3,69.3 506.0,69.5 506.7,69.1 507.4,68.8 508.1,68.8 508.8,68.7 509.5,68.8 510.2,69.3 510.9,70.5 511.6,70.8 512.3,71.5 513.0,71.3 513.7,71.4 514.4,71.6 515.1,71.5 515.8,72.2 516.5,72.5 517.2,72.6 517.9,72.7 518.6,73.6 519.3,73.4 520.0,74.1 520.7,74.2 521.4,74.2 522.1,74.6 522.8,74.2 523.5,74.2 524.2,74.0 524.9,74.5 525.6,74.9 526.3,74.7 527.0,75.3 527.7,74.6 528.4,74.4 529.1,73.8 529.8,73.6 530.5,74.7 531.2,74.9 531.9,75.0 532.6,74.4 533.3,74.8 534.0,74.9 534.7,75.1 535.4,75.6 536.1,75.6 536.8,76.1 537.5,76.0 538.2,76.1 538.9,76.1 539.6,75.7 540.3,75.9 541.0,76.2 541.7,76.7 542.4,77.2 543.1,76.9 543.8,76.6 544.5,75.8 545.2,76.1 545.9,76.8 546.6,76.8 547.3,77.1 548.0,76.9 548.7,77.3 549.4,76.8 550.1,76.6 550.8,76.8 551.5,77.0 552.2,77.3 552.9,77.8 553.6,77.8 554.3,77.5 555.0,77.1 555.7,76.9 556.4,76.9 557.1,77.2 557.8,77.2 558.5,77.2 559.2,77.5 559.9,77.7 560.6,77.6 561.3,77.9 562.0,77.6 562.7,77.0 563.4,76.9 564.1,76.0 564.8,75.7 565.5,75.5 566.2,75.8 566.9,75.3 567.6,75.3 568.3,74.8 569.0,74.9 569.7,75.4 570.4,76.0 571.1,76.3 571.8,76.1 572.5,76.2 573.2,76.0 573.9,76.4 574.6,76.8 575.3,77.4 576.0,77.6 576.7,77.3 577.4,77.0 578.1,76.5 578.8,76.9 579.5,76.8 580.2,77.5 580.9,77.6 581.6,78.1 582.3,78.7 583.0,78.8 583.7,78.9 584.4,78.7 585.1,79.2 585.8,79.0 586.5,78.8 587.2,77.9 587.9,76.8 588.6,76.7 589.3,76.6 590.0,76.1 590.7,75.9 591.4,75.7 592.1,75.3 592.8,74.5 593.5,74.9 594.2,74.0 594.9,73.0 595.6,72.0 596.3,71.7 597.0,71.8 597.7,71.4 598.4,71.5 599.1,71.0 599.8,71.4 600.5,71.1 601.2,71.9 601.9,71.3 602.6,70.1 603.3,69.5 604.0,69.5 604.7,69.6 605.4,69.8 606.1,70.3 606.8,70.7 607.5,70.0 608.2,69.2 608.9,69.4 609.6,69.1 610.3,69.3 611.0,69.6 611.7,69.6 612.4,69.4 613.1,69.6 613.8,69.5 614.5,69.8 615.2,69.6 615.9,69.8 616.6,69.9 617.3,70.4 618.0,70.8 618.7,71.2 619.4,71.4 620.1,72.0 620.8,72.0 621.5,73.6 622.2,73.7 622.9,74.4 623.6,74.5 624.3,74.7 625.0,75.1 625.7,75.6" fill="none" stroke="#4473b9" stroke-width="1.6" stroke-linejoin="round"/>
<rect x="379.3" y="14.5" width="246.7" height="187.2" fill="none" stroke="#8a8a8a" stroke-width="1"/>
<line x1="379.3" y1="201.7" x2="379.3" y2="206.5" stroke="#7a7a7a" stroke-width="1"/>
<text x="380.2" y="218.7" text-anchor="middle" font-size="10" fill="#2a2a2a" textLength="17.6" lengthAdjust="spacingAndGlyphs">750</text>
<line x1="434.1" y1="201.7" x2="434.1" y2="206.5" stroke="#7a7a7a" stroke-width="1"/>
<text x="435.0" y="218.7" text-anchor="middle" font-size="10" fill="#2a2a2a" textLength="17.6" lengthAdjust="spacingAndGlyphs">800</text>
<line x1="488.9" y1="201.7" x2="488.9" y2="206.5" stroke="#7a7a7a" stroke-width="1"/>
<text x="489.8" y="218.7" text-anchor="middle" font-size="10" fill="#2a2a2a" textLength="17.6" lengthAdjust="spacingAndGlyphs">850</text>
<line x1="543.7" y1="201.7" x2="543.7" y2="206.5" stroke="#7a7a7a" stroke-width="1"/>
<text x="544.6" y="218.7" text-anchor="middle" font-size="10" fill="#2a2a2a" textLength="17.6" lengthAdjust="spacingAndGlyphs">900</text>
<line x1="598.5" y1="201.7" x2="598.5" y2="206.5" stroke="#7a7a7a" stroke-width="1"/>
<text x="599.4" y="218.7" text-anchor="middle" font-size="10" fill="#2a2a2a" textLength="17.6" lengthAdjust="spacingAndGlyphs">950</text>
<text x="459.3" y="236.3" font-size="11" fill="#2a2a2a" textLength="86.5" lengthAdjust="spacingAndGlyphs">Wavelength (nm)</text>
<text transform="translate(371.4,160.1) rotate(-90)" x="0" y="0" font-size="11" fill="#2a2a2a" textLength="104.6" lengthAdjust="spacingAndGlyphs">ΔAbsorbance (mOD)</text>
<text transform="translate(589.1,31.0) scale(0.98,1)" font-size="10.9" fill="#222">IrO<tspan font-size="8.3" dy="4.0">2</tspan></text>
<text transform="translate(594.7,66.9) scale(1.01,1)" font-size="11" fill="#222">H<tspan font-size="6.6" dy="-4.7" dx="0.4">+</tspan></text>
<text transform="translate(464.8,165.1) scale(1.01,1)" font-size="11" fill="#222">Ir<tspan font-size="8" dy="-4.6" dx="0.2">6+</tspan></text>
<line x1="470.3" y1="106.19999999999999" x2="470.3" y2="147.5" stroke="#222" stroke-width="1.0" stroke-dasharray="3.7,3.1"/><path d="M469.0,106.8 L470.3,103.6 L471.6,106.8 Z" fill="#222"/>
<line x1="614" y1="63.7" x2="614" y2="186" stroke="#6e6e6e" stroke-width="1.2" stroke-dasharray="3,3.7"/>
<path d="M612.9,58.9 L614,56.6 L615.1,58.9 A1.15,1.15 0 1 1 612.9,58.9 Z" fill="#222"/>
<text x="633.6" y="7.8" font-size="10.2" fill="#222" textLength="42" lengthAdjust="spacingAndGlyphs">Time (fs)</text>
<line x1="633.1" y1="17.80" x2="659.6" y2="17.80" stroke="#4a7cc0" stroke-width="1.4"/>
<text x="664.0" y="21.60" font-size="10.8" fill="#222" textLength="22.6" lengthAdjust="spacingAndGlyphs">500</text>
<line x1="633.1" y1="32.31" x2="659.6" y2="32.31" stroke="#3d6cb4" stroke-width="1.4"/>
<text x="664.0" y="36.11" font-size="10.8" fill="#222" textLength="22.6" lengthAdjust="spacingAndGlyphs">400</text>
<line x1="633.1" y1="46.82" x2="659.6" y2="46.82" stroke="#9cc5e4" stroke-width="1.4"/>
<text x="664.0" y="50.62" font-size="10.8" fill="#222" textLength="22.6" lengthAdjust="spacingAndGlyphs">300</text>
<line x1="633.1" y1="61.33" x2="659.6" y2="61.33" stroke="#fde08a" stroke-width="1.4"/>
<text x="664.0" y="65.13" font-size="10.8" fill="#222" textLength="22.6" lengthAdjust="spacingAndGlyphs">200</text>
<line x1="633.1" y1="75.84" x2="659.6" y2="75.84" stroke="#f8a070" stroke-width="1.4"/>
<text x="664.0" y="79.64" font-size="10.8" fill="#222" textLength="18.6" lengthAdjust="spacingAndGlyphs">150</text>
<line x1="633.1" y1="90.35" x2="659.6" y2="90.35" stroke="#f49060" stroke-width="1.4"/>
<text x="664.0" y="94.15" font-size="10.8" fill="#222" textLength="19.8" lengthAdjust="spacingAndGlyphs">100</text>
<line x1="633.1" y1="104.86" x2="659.6" y2="104.86" stroke="#d84035" stroke-width="1.4"/>
<text x="664.0" y="108.66" font-size="10.8" fill="#222" textLength="13.3" lengthAdjust="spacingAndGlyphs">50</text>
<line x1="633.1" y1="119.37" x2="659.6" y2="119.37" stroke="#d53a35" stroke-width="1.4"/>
<text x="664.0" y="123.17" font-size="10.8" fill="#222" textLength="7.0" lengthAdjust="spacingAndGlyphs">0</text>
<path d="M0,341.0 L663.9,341.0 L660.2,335.2 L683.6,344.6 L660.2,353.9 L663.9,348.2 L0,348.2 Z" fill="url(#tl)"/>
<text x="113.0" y="347" font-size="7.4" fill="#222" textLength="12.6" lengthAdjust="spacingAndGlyphs">0 fs</text>
<text x="256.0" y="347" font-size="7.4" fill="#222" textLength="17.4" lengthAdjust="spacingAndGlyphs">50 fs</text>
<text x="394.7" y="347" font-size="7.4" fill="#222" textLength="20.5" lengthAdjust="spacingAndGlyphs">150 fs</text>
<text x="538.5" y="347" font-size="7.4" fill="#222" textLength="22.5" lengthAdjust="spacingAndGlyphs">300 fs</text>
<path d="M122.5,347.6 Q139,356 145.5,375.5 L148,375 Q142,354 128.6,347.6 Z" fill="#b8d3ee"/>
<path d="M141.6,375.4 L146.8,376.6 L152.2,372.8 L149.6,386.6 Z" fill="#b8d3ee"/>
<rect x="21.5" y="320.1" width="72.5" height="13.699999999999989" fill="#e5e5e5"/>
<path d="M56.6,320.1 L94,320.1 L94,333.8 L62.8,333.8 Z" fill="#8eaadc"/>
<line x1="21.5" y1="320.1" x2="93.7" y2="320.1" stroke="#4d4f55" stroke-width="1.1"/>
<path d="M26.1,320.1 L26.1,318.8 A9.9,9.9 0 0 1 45.9,318.8 L45.9,320.1 Z" fill="#e5e5e5" stroke="none"/>
<path d="M26.1,320.1 L26.1,318.8 A9.9,9.9 0 0 1 45.9,318.8 L45.9,320.1" fill="none" stroke="#4d4f55" stroke-width="0.95"/>
<text transform="translate(17.8,312.7) scale(1.0,1)" font-size="11.0" fill="#2a2a2a" >Ir<tspan font-size="7.7" dy="-4.5">4+</tspan></text>
<text transform="translate(50.2,318.6) scale(1.0,1)" font-size="11.0" fill="#2a2a2a" >e<tspan font-size="6.5" dy="-4.6">–</tspan></text>
<text transform="translate(22.4,330.1) scale(1.0,1)" font-size="11.0" fill="#2a2a2a" >IrO<tspan font-size="8.3" dy="3.8">2</tspan></text>
<text transform="translate(66.9,330.1) scale(1.0,1)" font-size="11.0" fill="#2a2a2a" >CeO<tspan font-size="8.3" dy="3.8">2</tspan></text>
<path d="M41,323.4 C46,324 49,326.5 52.5,325.9 S56.5,323.6 58,325 S57.2,328.9 59,329.1 S61.5,327.8 62.5,328.3 L64.5,329.2" fill="none" stroke="#333" stroke-width="0.8"/>
<path d="M63.8,327.8 L67,330.3 L63.2,330.5 Z" fill="#222"/>
<rect x="150.2" y="319.4" width="73.80000000000001" height="13.900000000000034" fill="#e5e5e5"/>
<path d="M186.6,319.4 L224,319.4 L224,333.3 L193.4,333.3 Z" fill="#8eaadc"/>
<line x1="150.2" y1="319.4" x2="223.7" y2="319.4" stroke="#4d4f55" stroke-width="1.1"/>
<path d="M155.25,319.4 L155.25,318.09999999999997 A9.6,9.6 0 0 1 174.45,318.09999999999997 L174.45,319.4 Z" fill="#cbcbcb" stroke="none"/>
<path d="M155.25,319.4 L155.25,318.09999999999997 A9.6,9.6 0 0 1 174.45,318.09999999999997 L174.45,319.4" fill="none" stroke="#4d4f55" stroke-width="0.95"/>
<line x1="164.4" y1="294.2" x2="164.4" y2="308.9" stroke="#2a2a2a" stroke-width="1.4" stroke-dasharray="5,1.4"/>
<circle cx="164.3" cy="286.9" r="7.2" fill="#f26466" stroke="#3a3a3a" stroke-width="0.8"/>
<circle cx="149.3" cy="278.1" r="4.6" fill="#fcd35c" stroke="#3a3a3a" stroke-width="0.8"/>
<circle cx="195.1" cy="280.7" r="4.6" fill="#fcd35c" stroke="#3a3a3a" stroke-width="0.8"/>
<path d="M177.3,280.5 L186.6,287 M184.1,278.8 L178.9,288.4" stroke="#000" stroke-width="2.2" stroke-linecap="butt"/>
<text transform="translate(138.5,266.2) scale(1.0,1)" font-size="11.0" fill="#2a2a2a" >H<tspan font-size="8.3" dy="3.8">2</tspan><tspan dy="-3.8">O</tspan></text>
<text transform="translate(142.3,315.5) scale(1.0,1)" font-size="11.0" fill="#2a2a2a" >Ir<tspan font-size="7.7" dy="-4.5">6+</tspan></text>
<rect x="290.6" y="320.2" width="72.79999999999995" height="13.600000000000023" fill="#e5e5e5"/>
<path d="M325.3,320.2 L363.4,320.2 L363.4,333.8 L333.2,333.8 Z" fill="#8eaadc"/>
<line x1="290.6" y1="320.2" x2="363.09999999999997" y2="320.2" stroke="#4d4f55" stroke-width="1.1"/>
<path d="M295.15000000000003,320.2 L295.15000000000003,318.9 A9.7,9.7 0 0 1 314.55,318.9 L314.55,320.2 Z" fill="#e5e5e5" stroke="none"/>
<path d="M295.15000000000003,320.2 L295.15000000000003,318.9 A9.7,9.7 0 0 1 314.55,318.9 L314.55,320.2" fill="none" stroke="#4d4f55" stroke-width="0.95"/>
<line x1="304.5" y1="294.8" x2="304.5" y2="309.5" stroke="#2a2a2a" stroke-width="1.4" stroke-dasharray="5,1.4"/>
<circle cx="304.5" cy="287.4" r="7.2" fill="#f26466" stroke="#3a3a3a" stroke-width="0.8"/>
<circle cx="289.5" cy="278.5" r="4.6" fill="#fcd35c" stroke="#3a3a3a" stroke-width="0.8"/>
<circle cx="338.8" cy="292.6" r="4.6" fill="#fcd35c" stroke="#3a3a3a" stroke-width="0.8"/>
<path d="M313.5,287.2 C325,287 336,282 342.2,274.2" fill="none" stroke="#222" stroke-width="1"/>
<path d="M339.9,273.6 L344.6,270.8 L343.6,276 Z" fill="#222"/>
<text transform="translate(272.3,269.8) scale(1.0,1)" font-size="11.0" fill="#2a2a2a" letter-spacing="0.35">*OH</text>
<text transform="translate(342.3,270.8) scale(1.0,1)" font-size="11.0" fill="#2a2a2a" >O<tspan font-size="8.3" dy="3.8">2</tspan></text>
<text transform="translate(347.6,295.3) scale(1.0,1)" font-size="11.0" fill="#2a2a2a" >H<tspan font-size="6.8" dy="-4.3">+</tspan></text>
<text transform="translate(282.6,313.4) scale(1.0,1)" font-size="11.0" fill="#2a2a2a" >Ir<tspan font-size="7.7" dy="-4.5">4+</tspan></text>
<rect x="432.2" y="320.3" width="72.60000000000002" height="13.399999999999977" fill="#e5e5e5"/>
<path d="M467.3,320.3 L504.8,320.3 L504.8,333.7 L474.3,333.7 Z" fill="#8eaadc"/>
<line x1="432.2" y1="320.3" x2="504.5" y2="320.3" stroke="#4d4f55" stroke-width="1.1"/>
<path d="M436.59999999999997,320.3 L436.59999999999997,319.0 A10.1,10.1 0 0 1 456.8,319.0 L456.8,320.3 Z" fill="#e5e5e5" stroke="none"/>
<path d="M436.59999999999997,320.3 L436.59999999999997,319.0 A10.1,10.1 0 0 1 456.8,319.0 L456.8,320.3" fill="none" stroke="#4d4f55" stroke-width="0.95"/>
<line x1="461.3" y1="299" x2="461.3" y2="320.3" stroke="#2a2a2a" stroke-width="1.4" stroke-dasharray="5,1.4"/>
<circle cx="461.3" cy="294.3" r="4.6" fill="#fcd35c" stroke="#3a3a3a" stroke-width="0.8"/>
<text transform="translate(469.5,295.9) scale(1.0,1)" font-size="11.0" fill="#2a2a2a" >H*</text>
<text transform="translate(423.7,315.8) scale(1.0,1)" font-size="11.0" fill="#2a2a2a" >Ir<tspan font-size="7.7" dy="-4.5">4+</tspan></text>
<rect x="571.8" y="319.4" width="72.5" height="13.700000000000045" fill="#e5e5e5"/>
<path d="M606.4,319.4 L644.3,319.4 L644.3,333.1 L613.8,333.1 Z" fill="#8eaadc"/>
<line x1="571.8" y1="319.4" x2="644.0" y2="319.4" stroke="#4d4f55" stroke-width="1.1"/>
<path d="M576.3499999999999,319.4 L576.3499999999999,318.09999999999997 A9.7,9.7 0 0 1 595.75,318.09999999999997 L595.75,319.4 Z" fill="#e5e5e5" stroke="none"/>
<path d="M576.3499999999999,319.4 L576.3499999999999,318.09999999999997 A9.7,9.7 0 0 1 595.75,318.09999999999997 L595.75,319.4" fill="none" stroke="#4d4f55" stroke-width="0.95"/>
<circle cx="618.4" cy="290.8" r="4.6" fill="#fcd35c" stroke="#3a3a3a" stroke-width="0.8"/>
<path d="M600.4,319.4 C602,316 604,313.4 607.5,312 S611.2,309.6 609.5,307.6 S606.8,305.4 608.8,304.2 L612.6,301.8" fill="none" stroke="#1e1e1e" stroke-width="1.05"/>
<path d="M611,300.2 L616,297.3 L614,302.8 Z" fill="#222"/>
<text transform="translate(627.1,294.2) scale(1.0,1)" font-size="11.0" fill="#2a2a2a" >H<tspan font-size="6.8" dy="-4.3">+</tspan></text>
<text transform="translate(562.4,315.8) scale(1.0,1)" font-size="11.0" fill="#2a2a2a" >Ir<tspan font-size="7.7" dy="-4.5">4+</tspan></text>
<rect x="150.2" y="418.7" width="72.60000000000002" height="16.30000000000001" fill="#e5e5e5"/>
<line x1="150.2" y1="418.7" x2="222.8" y2="418.7" stroke="#4d4f55" stroke-width="1.1"/>
<path d="M194.29999999999998,418.7 L194.29999999999998,417.4 A9.8,9.8 0 0 1 213.9,417.4 L213.9,418.7 Z" fill="#cbcbcb" stroke="none"/>
<path d="M194.29999999999998,418.7 L194.29999999999998,417.4 A9.8,9.8 0 0 1 213.9,417.4 L213.9,418.7" fill="none" stroke="#4d4f55" stroke-width="0.95"/>
<line x1="204.1" y1="395.2" x2="204.1" y2="408.5" stroke="#2a2a2a" stroke-width="1.4" stroke-dasharray="5,1.4"/>
<circle cx="204.1" cy="387.6" r="7.2" fill="#f26466" stroke="#3a3a3a" stroke-width="0.8"/>
<circle cx="204.1" cy="367.9" r="4.6" fill="#fcd35c" stroke="#3a3a3a" stroke-width="0.8"/>
<circle cx="184.1" cy="394.4" r="4.6" fill="#fcd35c" stroke="#3a3a3a" stroke-width="0.8"/>
<circle cx="231.8" cy="398.7" r="4.5" fill="#fcd35c" stroke="#3a3a3a" stroke-width="0.8"/>
<line x1="211.3" y1="390.2" x2="227.5" y2="397.3" stroke="#222" stroke-width="1.1" stroke-dasharray="2.2,1.6"/>
<path d="M217.4,388.6 L220.9,398.1 M223.4,390.7 L214.7,396.5" stroke="#000" stroke-width="2.5" stroke-linecap="round"/>
<text transform="translate(169.5,386.8) scale(1.0,1)" font-size="11.0" fill="#2a2a2a" >H<tspan font-size="8.3" dy="3.8">3</tspan><tspan dy="-3.8">O+</tspan></text>
<text transform="translate(181.3,415.6) scale(1.0,1)" font-size="11.0" fill="#2a2a2a" >Ir<tspan font-size="7.7" dy="-4.5">6+</tspan></text>
<text transform="translate(153.8,428.1) scale(1.0,1)" font-size="11.0" fill="#2a2a2a" >IrO<tspan font-size="8.3" dy="3.8">2</tspan></text>
<rect x="290.4" y="418.7" width="72.60000000000002" height="16.30000000000001" fill="#e5e5e5"/>
<line x1="290.4" y1="418.7" x2="363" y2="418.7" stroke="#4d4f55" stroke-width="1.1"/>
<path d="M331.75,418.7 L331.75,417.4 A9.9,9.9 0 0 1 351.54999999999995,417.4 L351.54999999999995,418.7 Z" fill="#cbcbcb" stroke="none"/>
<path d="M331.75,418.7 L331.75,417.4 A9.9,9.9 0 0 1 351.54999999999995,417.4 L351.54999999999995,418.7" fill="none" stroke="#4d4f55" stroke-width="0.95"/>
<line x1="340.9" y1="392.6" x2="340.9" y2="408.6" stroke="#2a2a2a" stroke-width="1.4" stroke-dasharray="5,1.4"/>
<circle cx="340.9" cy="385.2" r="7.2" fill="#f26466" stroke="#3a3a3a" stroke-width="0.8"/>
<circle cx="345.6" cy="365.4" r="4.6" fill="#fcd35c" stroke="#3a3a3a" stroke-width="0.8"/>
<circle cx="322.6" cy="390.9" r="4.6" fill="#fcd35c" stroke="#3a3a3a" stroke-width="0.8"/>
<line x1="357" y1="402" x2="357" y2="418.7" stroke="#2a2a2a" stroke-width="1.4" stroke-dasharray="5,1.4"/>
<circle cx="357" cy="397" r="4.6" fill="#fcd35c" stroke="#3a3a3a" stroke-width="0.8"/>
<text transform="translate(316.0,375) scale(1.0,1)" font-size="11.0" fill="#2a2a2a" >H<tspan font-size="8.3" dy="3.8">2</tspan><tspan dy="-3.8">O</tspan></text>
<text transform="translate(362.9,398.8) scale(1.0,1)" font-size="11.0" fill="#2a2a2a" >H*</text>
<text transform="translate(318.8,413) scale(1.0,1)" font-size="11.0" fill="#2a2a2a" >Ir<tspan font-size="7.7" dy="-4.5">6+</tspan></text>
<path d="M432.8,418.7 L479.4,418.7 A9.63,9.63 0 0 0 496.8,418.7 L505.8,418.7 L505.8,435 L432.8,435 Z" fill="#e5e5e5"/>
<line x1="432.8" y1="418.7" x2="479.4" y2="418.7" stroke="#8a8a8a" stroke-width="1.4"/>
<line x1="496.8" y1="418.7" x2="505.8" y2="418.7" stroke="#8a8a8a" stroke-width="1.4"/>
<path d="M479.4,418.7 A9.63,9.63 0 0 0 496.8,418.7" fill="none" stroke="#4d4f55" stroke-width="1.0"/>
<circle cx="464.4" cy="370" r="8.4" fill="#cdcdcd" stroke="#3a3a3a" stroke-width="0.8"/>
<path d="M484.2,418.4 L477.3,402.5 L479.4,395.2 L472,395 L473.9,389.4 L471.2,383" fill="none" stroke="#1e1e1e" stroke-width="1.05" stroke-linejoin="round"/>
<path d="M468.9,379.3 L473.4,382.6 L469.6,384.2 Z" fill="#222"/>
<line x1="501.4" y1="402.3" x2="501.4" y2="418.7" stroke="#2a2a2a" stroke-width="1.4" stroke-dasharray="5,1.4"/>
<circle cx="501.6" cy="397.7" r="4.6" fill="#fcd35c" stroke="#3a3a3a" stroke-width="0.8"/>
<text transform="translate(509.6,396.6) scale(1.0,1)" font-size="11.0" fill="#2a2a2a" >H*</text>
<text transform="translate(450.3,364.4) scale(1.0,1)" font-size="11.0" fill="#2a2a2a" >Ir<tspan font-size="7.7" dy="-4.5">6+</tspan></text>
<text transform="translate(461.8,413.9) scale(1.0,1)" font-size="11.0" fill="#2a2a2a" >Ir<tspan font-size="7.8" dy="2.6">Vo</tspan></text>
<path d="M572.2,418.7 L616.3,418.7 A10.88,10.88 0 0 0 635.1,418.7 L644.8,418.7 L644.8,435 L572.2,435 Z" fill="#e5e5e5"/>
<line x1="572.2" y1="418.7" x2="616.3" y2="418.7" stroke="#8a8a8a" stroke-width="1.4"/>
<path d="M616.3,418.7 A10.88,10.88 0 0 0 635.1,418.7 L644.8,418.7" fill="none" stroke="#4d4f55" stroke-width="1.0"/>
<circle cx="644.2" cy="381.9" r="4.6" fill="#fcd35c" stroke="#3a3a3a" stroke-width="0.8"/>
<path d="M640.3,418.4 L640.5,410.8 C641,408 645.8,406.5 645.4,404.4 C645,402.5 640.6,402.6 641.2,400.6 C641.8,398.5 644.6,396.5 644.7,394.8" fill="none" stroke="#1e1e1e" stroke-width="1.05"/>
<path d="M642.5,394.9 L644.5,390.2 L646.5,395.0 Z" fill="#1e1e1e"/>
<text transform="translate(651.5,382.5) scale(1.0,1)" font-size="11.0" fill="#2a2a2a" >H<tspan font-size="6.8" dy="-4.3">+</tspan></text>
<text transform="translate(605.3,414.1) scale(1.0,1)" font-size="11.0" fill="#2a2a2a" >Ir<tspan font-size="7.8" dy="2.6">Vo</tspan></text>
</svg>
</body></html>
